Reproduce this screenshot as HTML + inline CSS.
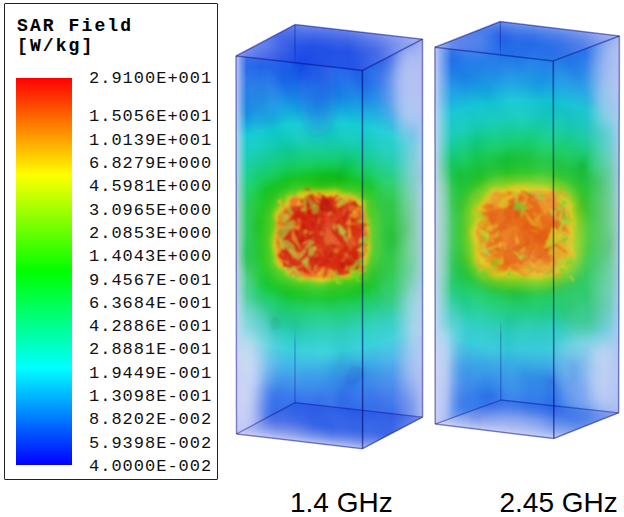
<!DOCTYPE html>
<html><head><meta charset="utf-8">
<style>
html,body{margin:0;padding:0;background:#fff;}
body{width:624px;height:517px;position:relative;overflow:hidden;}
#leg{position:absolute;left:3.65px;top:3px;width:212.5px;height:475.3px;border:1.7px solid #222;border-radius:1px;box-sizing:content-box;}
.t{position:absolute;font-family:"Liberation Mono",monospace;font-weight:bold;font-size:18px;letter-spacing:2.1px;color:#000;-webkit-text-stroke:0.1px #000;line-height:1;white-space:pre;}
#cb{position:absolute;left:16px;top:77.6px;width:55.6px;height:387.7px;background:linear-gradient(#ff0000 0%,#ffff00 25%,#00ff00 50%,#00ffff 75%,#0000ff 100%);}
.n{position:absolute;left:89px;font-family:"Liberation Mono",monospace;font-size:17px;letter-spacing:1.0px;color:#111;line-height:1;white-space:pre;}
.cap{position:absolute;font-family:"Liberation Sans",sans-serif;font-size:28px;color:#000;line-height:1;white-space:pre;}
svg{position:absolute;left:0;top:0;}
</style></head><body>
<div id="leg"></div>
<div class="t" style="left:17px;top:17px">SAR Field</div>
<div class="t" style="left:17px;top:37px">[W/kg]</div>
<div id="cb"></div>
<div class="n" style="top:70.4px">2.9100E+001</div>
<div class="n" style="top:108.4px">1.5056E+001</div>
<div class="n" style="top:131.7px">1.0139E+001</div>
<div class="n" style="top:155.0px">6.8279E+000</div>
<div class="n" style="top:178.3px">4.5981E+000</div>
<div class="n" style="top:201.6px">3.0965E+000</div>
<div class="n" style="top:224.9px">2.0853E+000</div>
<div class="n" style="top:248.2px">1.4043E+000</div>
<div class="n" style="top:271.5px">9.4567E-001</div>
<div class="n" style="top:294.8px">6.3684E-001</div>
<div class="n" style="top:318.1px">4.2886E-001</div>
<div class="n" style="top:341.4px">2.8881E-001</div>
<div class="n" style="top:364.7px">1.9449E-001</div>
<div class="n" style="top:388.0px">1.3098E-001</div>
<div class="n" style="top:411.3px">8.8202E-002</div>
<div class="n" style="top:434.6px">5.9398E-002</div>
<div class="n" style="top:457.9px">4.0000E-002</div>
<div class="cap" style="left:290px;top:488.8px">1.4 GHz</div>
<div class="cap" style="left:499.5px;top:488.8px">2.45 GHz</div>
<!--BOXES-->
<svg width="624" height="517" viewBox="0 0 624 517"><defs>
<filter id="bl" x="-20%" y="-20%" width="140%" height="140%"><feGaussianBlur stdDeviation="0.8"/></filter>
<filter id="bl2" x="-30%" y="-30%" width="160%" height="160%"><feGaussianBlur stdDeviation="1.8"/></filter>
<filter id="bl3" x="-30%" y="-30%" width="160%" height="160%"><feGaussianBlur stdDeviation="2.5"/></filter>
<filter id="bl6" x="-40%" y="-40%" width="180%" height="180%"><feGaussianBlur stdDeviation="6"/></filter>
<filter id="hz" x="-50%" y="-50%" width="200%" height="200%"><feGaussianBlur stdDeviation="8"/></filter>
<filter id="nz1" x="0" y="0" width="100%" height="100%" filterUnits="objectBoundingBox"><feTurbulence type="fractalNoise" baseFrequency="0.03 0.02" numOctaves="2" seed="5"/><feColorMatrix type="matrix" values="0 0 0 1.6 -0.3  0 0 0 1.6 -0.3  0 0 0 1.6 -0.3  0 0 0 0 1"/></filter>
<filter id="nz2" x="0" y="0" width="100%" height="100%" filterUnits="objectBoundingBox"><feTurbulence type="fractalNoise" baseFrequency="0.03 0.02" numOctaves="2" seed="11"/><feColorMatrix type="matrix" values="0 0 0 1.6 -0.3  0 0 0 1.6 -0.3  0 0 0 1.6 -0.3  0 0 0 0 1"/></filter>
<radialGradient id="base1" gradientUnits="userSpaceOnUse" cx="321.0" cy="237.0" r="240.0" gradientTransform="translate(321.0 237.0) scale(1.350 1) translate(-321.0 -237.0)"><stop offset="0.000" stop-color="#40c820"/><stop offset="0.208" stop-color="#18c018"/><stop offset="0.258" stop-color="#10c020"/><stop offset="0.300" stop-color="#10c850"/><stop offset="0.350" stop-color="#10c880"/><stop offset="0.408" stop-color="#10c8b0"/><stop offset="0.479" stop-color="#10c8d0"/><stop offset="0.542" stop-color="#10a0e0"/><stop offset="0.592" stop-color="#1480e4"/><stop offset="0.667" stop-color="#1a60e8"/><stop offset="0.771" stop-color="#1850e4"/><stop offset="1.000" stop-color="#1c4ce2"/></radialGradient>
<linearGradient id="hr1" gradientUnits="userSpaceOnUse" x1="362.4" y1="0" x2="422.5" y2="0"><stop offset="0" stop-color="#d8dcf6" stop-opacity="0.0"/><stop offset="0.5" stop-color="#d8dcf6" stop-opacity="0.08"/><stop offset="0.85" stop-color="#d0d4f4" stop-opacity="0.50"/><stop offset="1" stop-color="#c8ccf4" stop-opacity="0.8"/></linearGradient>
<linearGradient id="vl1" gradientUnits="userSpaceOnUse" x1="0" y1="285.0" x2="0" y2="435.0"><stop offset="0" stop-color="#dde2f6" stop-opacity="0"/><stop offset="0.5" stop-color="#dde2f6" stop-opacity="0.20"/><stop offset="1" stop-color="#dde2f6" stop-opacity="0.04"/></linearGradient>
<linearGradient id="hl1" gradientUnits="userSpaceOnUse" x1="236.0" y1="0" x2="247.0" y2="0"><stop offset="0" stop-color="#d4d8f6" stop-opacity="0.9"/><stop offset="0.35" stop-color="#d4d8f6" stop-opacity="0.55"/><stop offset="1" stop-color="#d4d8f6" stop-opacity="0"/></linearGradient>
<linearGradient id="ht1" gradientUnits="userSpaceOnUse" x1="236.0" y1="0" x2="422.5" y2="0"><stop offset="0" stop-color="#b8c0f2" stop-opacity="0.8"/><stop offset="0.14" stop-color="#7088ec" stop-opacity="0.55"/><stop offset="0.32" stop-color="#2040e6" stop-opacity="0.35"/><stop offset="0.6" stop-color="#2040e6" stop-opacity="0.35"/><stop offset="0.85" stop-color="#a0acf0" stop-opacity="0.55"/><stop offset="1" stop-color="#d0d4f6" stop-opacity="0.75"/></linearGradient>
<linearGradient id="hu1" gradientUnits="userSpaceOnUse" x1="236.0" y1="56.0" x2="240.3" y2="18.3"><stop offset="0" stop-color="#2040e6" stop-opacity="0.24"/><stop offset="0.4" stop-color="#4060e4" stop-opacity="0.1"/><stop offset="1" stop-color="#b0b8f0" stop-opacity="0.50"/></linearGradient>
<linearGradient id="hb1" gradientUnits="userSpaceOnUse" x1="295.0" y1="402.6" x2="290.7" y2="440.2"><stop offset="0" stop-color="#1838e0" stop-opacity="0.35"/><stop offset="0.5" stop-color="#5068e4" stop-opacity="0.20"/><stop offset="1" stop-color="#d8daf6" stop-opacity="0.82"/></linearGradient>
<linearGradient id="bv1" gradientUnits="userSpaceOnUse" x1="0" y1="24.6" x2="0" y2="402.6"><stop offset="0" stop-color="#000080" stop-opacity="0.45"/><stop offset="0.067" stop-color="#000080" stop-opacity="0.4"/><stop offset="0.107" stop-color="#000080" stop-opacity="0"/><stop offset="0.808" stop-color="#000080" stop-opacity="0"/><stop offset="0.848" stop-color="#000080" stop-opacity="0.35"/><stop offset="1" stop-color="#000080" stop-opacity="0.4"/></linearGradient>
<radialGradient id="base2" gradientUnits="userSpaceOnUse" cx="524.0" cy="225.0" r="260.0" gradientTransform="translate(524.0 225.0) scale(1.350 1) translate(-524.0 -225.0)"><stop offset="0.000" stop-color="#40c820"/><stop offset="0.208" stop-color="#20c028"/><stop offset="0.258" stop-color="#18c038"/><stop offset="0.300" stop-color="#14c858"/><stop offset="0.350" stop-color="#10c880"/><stop offset="0.408" stop-color="#10c4b0"/><stop offset="0.479" stop-color="#10c0d0"/><stop offset="0.542" stop-color="#1498e0"/><stop offset="0.592" stop-color="#1880e4"/><stop offset="0.667" stop-color="#1a68e8"/><stop offset="1.000" stop-color="#1c5ee6"/></radialGradient>
<linearGradient id="hr2" gradientUnits="userSpaceOnUse" x1="553.3" y1="0" x2="619.4" y2="0"><stop offset="0" stop-color="#d8dcf6" stop-opacity="0.0"/><stop offset="0.5" stop-color="#d8dcf6" stop-opacity="0.05"/><stop offset="0.85" stop-color="#d0d4f4" stop-opacity="0.45"/><stop offset="1" stop-color="#c8ccf4" stop-opacity="0.8"/></linearGradient>
<linearGradient id="vl2" gradientUnits="userSpaceOnUse" x1="0" y1="280.0" x2="0" y2="425.0"><stop offset="0" stop-color="#dde2f6" stop-opacity="0"/><stop offset="0.5" stop-color="#dde2f6" stop-opacity="0.18"/><stop offset="1" stop-color="#dde2f6" stop-opacity="0.05"/></linearGradient>
<linearGradient id="hl2" gradientUnits="userSpaceOnUse" x1="434.9" y1="0" x2="451.9" y2="0"><stop offset="0" stop-color="#d4d8f6" stop-opacity="0.9"/><stop offset="0.35" stop-color="#d4d8f6" stop-opacity="0.55"/><stop offset="1" stop-color="#d4d8f6" stop-opacity="0"/></linearGradient>
<linearGradient id="ht2" gradientUnits="userSpaceOnUse" x1="434.9" y1="0" x2="619.4" y2="0"><stop offset="0" stop-color="#b8c0f2" stop-opacity="0.8"/><stop offset="0.14" stop-color="#7088ec" stop-opacity="0.55"/><stop offset="0.32" stop-color="#2a62e4" stop-opacity="0.15"/><stop offset="0.6" stop-color="#2a62e4" stop-opacity="0.15"/><stop offset="0.85" stop-color="#a0acf0" stop-opacity="0.55"/><stop offset="1" stop-color="#d0d4f6" stop-opacity="0.75"/></linearGradient>
<linearGradient id="hu2" gradientUnits="userSpaceOnUse" x1="434.9" y1="47.2" x2="438.7" y2="14.4"><stop offset="0" stop-color="#2a62e4" stop-opacity="0.10"/><stop offset="0.4" stop-color="#4060e4" stop-opacity="0.1"/><stop offset="1" stop-color="#b0b8f0" stop-opacity="0.55"/></linearGradient>
<linearGradient id="hb2" gradientUnits="userSpaceOnUse" x1="500.9" y1="400.0" x2="497.5" y2="430.9"><stop offset="0" stop-color="#1838e0" stop-opacity="0.20"/><stop offset="0.5" stop-color="#98a4ec" stop-opacity="0.40"/><stop offset="1" stop-color="#d8daf6" stop-opacity="0.82"/></linearGradient>
<linearGradient id="bv2" gradientUnits="userSpaceOnUse" x1="0" y1="21.5" x2="0" y2="400.0"><stop offset="0" stop-color="#000080" stop-opacity="0.45"/><stop offset="0.059" stop-color="#000080" stop-opacity="0.4"/><stop offset="0.099" stop-color="#000080" stop-opacity="0"/><stop offset="0.789" stop-color="#000080" stop-opacity="0"/><stop offset="0.828" stop-color="#000080" stop-opacity="0.35"/><stop offset="1" stop-color="#000080" stop-opacity="0.4"/></linearGradient>
</defs>
<clipPath id="c1"><polygon points="236.0,56.0 295.0,24.6 422.5,39.2 422.6,417.2 362.6,448.7 236.5,434.0"/></clipPath>
<g clip-path="url(#c1)">
<rect x="236.0" y="24.6" width="186.5" height="424.1" fill="url(#base1)"/>
<g filter="url(#hz)">
<ellipse cx="242.0" cy="240.0" rx="10.0" ry="55.0" fill="#40c8a8" fill-opacity="0.55"/>
<ellipse cx="392.0" cy="245.0" rx="24.0" ry="65.0" fill="#20c048" fill-opacity="0.45"/>
<ellipse cx="318.0" cy="95.0" rx="18.0" ry="40.0" fill="#1838e0" fill-opacity="0.35"/>
<ellipse cx="260.0" cy="100.0" rx="20.0" ry="28.0" fill="#2c90e0" fill-opacity="0.35"/>
</g>
<path d="M377.2,236.0 L377.0,246.7 L376.5,253.0 L375.6,258.1 L374.4,262.6 L372.8,266.5 L370.8,270.1 L368.5,273.2 L365.8,276.0 L362.8,278.5 L359.3,280.6 L355.4,282.4 L351.1,283.8 L346.2,284.9 L340.6,285.8 L333.7,286.2 L322.0,286.4 L310.3,286.2 L303.4,285.8 L297.8,284.9 L292.9,283.8 L288.6,282.4 L284.7,280.6 L281.2,278.5 L278.2,276.0 L275.5,273.2 L273.2,270.1 L271.2,266.5 L269.6,262.6 L268.4,258.1 L267.5,253.0 L267.0,246.7 L266.8,236.0 L267.0,225.3 L267.5,219.0 L268.4,213.9 L269.6,209.4 L271.2,205.5 L273.2,201.9 L275.5,198.8 L278.2,196.0 L281.2,193.5 L284.7,191.4 L288.6,189.6 L292.9,188.2 L297.8,187.1 L303.4,186.2 L310.3,185.8 L322.0,185.6 L333.7,185.8 L340.6,186.2 L346.2,187.1 L351.1,188.2 L355.4,189.6 L359.3,191.4 L362.8,193.5 L365.8,196.0 L368.5,198.8 L370.8,201.9 L372.8,205.5 L374.4,209.4 L375.6,213.9 L376.5,219.0 L377.0,225.3Z" fill="#70d018" fill-opacity="0.70" filter="url(#bl6)"/>
<path d="M368.8,236.0 L370.2,248.9 L368.0,255.8 L367.3,262.4 L364.6,267.4 L358.3,269.2 L353.9,272.1 L351.7,278.5 L343.4,277.4 L335.6,278.3 L322.0,282.7 L308.0,279.6 L299.0,280.4 L293.6,276.7 L287.5,274.9 L285.3,269.5 L279.4,267.4 L275.3,263.2 L275.2,256.2 L272.7,249.2 L272.7,236.0 L276.6,223.9 L273.8,215.2 L276.8,209.7 L281.1,205.8 L285.8,203.0 L286.6,196.0 L293.6,195.3 L299.3,192.2 L307.3,190.3 L322.0,190.8 L336.7,190.1 L343.8,193.9 L351.6,193.7 L355.7,198.0 L362.3,199.2 L365.8,203.6 L364.6,211.2 L366.7,216.7 L368.3,223.6Z" fill="#e8c414" fill-opacity="0.95" filter="url(#bl3)"/>
<path d="M368.5,236.0 L365.0,247.5 L365.0,254.6 L361.3,258.9 L360.0,264.0 L356.1,267.2 L352.0,269.9 L348.1,273.4 L342.2,275.0 L335.4,277.8 L322.0,276.9 L308.6,277.9 L301.0,276.5 L294.4,275.5 L290.6,271.5 L289.0,266.2 L282.1,265.4 L278.9,261.1 L277.3,255.3 L278.2,247.7 L277.0,236.0 L280.4,224.9 L277.8,216.9 L281.1,212.2 L285.2,208.8 L289.4,206.3 L289.8,199.6 L294.4,196.5 L303.2,199.6 L308.8,194.8 L322.0,196.6 L334.1,198.4 L341.4,198.5 L348.8,197.7 L354.3,199.5 L354.5,206.4 L360.6,207.6 L359.9,213.9 L365.6,217.2 L364.3,224.7Z" fill="#e8701c" filter="url(#bl2)"/>
<path d="M362.7,236.0 L362.9,246.9 L359.4,252.1 L360.3,258.3 L354.7,260.1 L350.9,262.3 L349.5,267.1 L343.3,266.5 L338.9,268.7 L333.1,270.5 L322.0,271.8 L311.3,269.3 L305.5,267.9 L298.0,270.3 L295.6,265.8 L289.4,265.8 L286.6,262.1 L286.8,256.5 L284.8,252.0 L283.6,246.3 L282.6,236.0 L283.2,225.6 L284.3,219.7 L285.6,214.8 L286.4,209.7 L291.3,208.0 L295.1,205.7 L298.5,202.3 L305.0,203.1 L311.1,202.0 L322.0,198.4 L333.3,200.9 L339.8,201.6 L343.3,205.6 L348.8,205.7 L353.0,207.7 L353.3,212.9 L358.4,214.8 L360.1,219.6 L358.0,226.4Z" fill="#d42c14" filter="url(#bl2)"/>
<g filter="url(#bl)">
<polygon points="329.2,239.4 340.9,218.7 320.4,238.5" fill="#d02010" fill-opacity="0.85"/>
<polygon points="297.7,249.2 309.8,240.2 308.7,237.3" fill="#e8a028" fill-opacity="0.87"/>
<polygon points="281.2,230.9 293.4,240.4 276.1,239.0" fill="#c8a828" fill-opacity="0.93"/>
<polygon points="313.4,268.6 323.3,265.0 311.4,259.0" fill="#e03418" fill-opacity="0.73"/>
<polygon points="347.4,253.7 338.5,246.4 356.0,239.6" fill="#d42410" fill-opacity="0.71"/>
<polygon points="305.7,239.1 299.6,217.1 318.5,238.2" fill="#cc2010" fill-opacity="0.82"/>
<polygon points="346.9,271.3 358.2,269.6 362.8,242.7" fill="#d02010" fill-opacity="0.96"/>
<polygon points="353.0,273.2 322.5,278.0 328.2,264.5" fill="#d83818" fill-opacity="0.81"/>
<polygon points="288.1,200.6 288.3,218.0 283.2,219.1" fill="#e8a028" fill-opacity="0.95"/>
<polygon points="300.1,245.0 288.7,227.5 291.7,229.2" fill="#d02010" fill-opacity="0.94"/>
<polygon points="279.9,233.0 287.1,238.0 280.9,229.5" fill="#d82810" fill-opacity="0.65"/>
<polygon points="348.6,243.9 349.8,243.7 342.3,247.4" fill="#c8a828" fill-opacity="0.80"/>
<polygon points="339.5,221.5 341.8,235.3 327.5,227.0" fill="#a8b830" fill-opacity="0.61"/>
<polygon points="330.7,274.5 331.4,273.0 327.9,265.0" fill="#b81808" fill-opacity="0.83"/>
<polygon points="280.5,247.2 279.1,237.6 279.8,248.7" fill="#d02010" fill-opacity="0.74"/>
<polygon points="280.0,228.3 276.5,249.0 288.5,235.4" fill="#d83818" fill-opacity="0.90"/>
<polygon points="297.1,230.5 297.4,245.3 314.4,237.8" fill="#cc2010" fill-opacity="0.98"/>
<polygon points="323.0,230.7 307.5,216.2 313.4,229.2" fill="#c81c0c" fill-opacity="0.86"/>
<polygon points="285.4,254.8 292.7,245.5 276.4,246.0" fill="#b81808" fill-opacity="0.97"/>
<polygon points="359.9,250.8 357.5,242.0 367.3,251.0" fill="#d02010" fill-opacity="0.79"/>
<polygon points="307.2,214.7 303.1,219.6 310.8,210.7" fill="#d42410" fill-opacity="0.96"/>
<polygon points="331.2,255.4 341.8,263.6 330.0,261.2" fill="#d02010" fill-opacity="0.96"/>
<polygon points="297.8,271.6 290.5,257.9 306.6,262.2" fill="#e8a028" fill-opacity="0.89"/>
<polygon points="308.8,229.7 306.3,219.9 303.6,232.0" fill="#cc2010" fill-opacity="0.65"/>
<polygon points="303.8,264.5 315.4,268.7 302.9,267.1" fill="#c8a828" fill-opacity="0.83"/>
<polygon points="312.8,244.6 330.3,256.4 328.2,256.1" fill="#b81808" fill-opacity="0.96"/>
<polygon points="323.3,198.2 344.3,207.9 338.3,209.7" fill="#d02010" fill-opacity="0.91"/>
<polygon points="341.9,204.4 338.9,195.7 336.7,194.8" fill="#e87020" fill-opacity="0.80"/>
<polygon points="295.0,256.4 299.7,264.7 295.4,266.4" fill="#d02010" fill-opacity="0.84"/>
<polygon points="324.8,248.5 341.1,247.5 334.8,258.7" fill="#e8a028" fill-opacity="0.66"/>
<polygon points="314.5,202.3 306.0,217.8 300.1,218.3" fill="#d42410" fill-opacity="0.75"/>
<polygon points="340.8,248.4 321.0,253.5 326.4,245.9" fill="#d02010" fill-opacity="0.64"/>
<polygon points="347.8,208.2 350.7,208.4 351.2,221.4" fill="#d82810" fill-opacity="0.83"/>
<polygon points="277.6,255.6 280.8,248.3 290.0,272.6" fill="#d42410" fill-opacity="0.74"/>
<polygon points="343.5,195.5 325.5,217.6 351.2,197.9" fill="#d0c028" fill-opacity="0.77"/>
<polygon points="338.0,227.7 340.6,229.1 345.6,238.1" fill="#cc2010" fill-opacity="0.68"/>
<polygon points="317.0,240.7 312.1,260.6 316.8,248.7" fill="#d02010" fill-opacity="0.92"/>
<polygon points="301.0,213.3 283.3,228.0 299.9,229.8" fill="#e8a028" fill-opacity="0.67"/>
<polygon points="320.3,197.7 324.0,194.0 319.7,197.5" fill="#d0c028" fill-opacity="0.70"/>
<polygon points="303.4,219.1 313.9,216.8 307.2,220.6" fill="#c41c0c" fill-opacity="0.97"/>
<polygon points="310.1,217.6 300.5,206.7 307.4,224.6" fill="#d02010" fill-opacity="0.64"/>
<polygon points="322.5,231.3 329.7,239.2 319.3,234.1" fill="#c8a828" fill-opacity="0.61"/>
<polygon points="288.9,237.4 316.9,230.8 300.0,238.9" fill="#a8b830" fill-opacity="0.76"/>
<polygon points="363.2,263.3 345.7,273.6 351.6,265.3" fill="#b81808" fill-opacity="0.71"/>
<polygon points="297.6,251.3 291.2,244.7 297.6,240.9" fill="#c41c0c" fill-opacity="0.88"/>
<polygon points="345.3,208.3 340.0,208.0 335.8,231.4" fill="#b81808" fill-opacity="0.60"/>
<polygon points="288.1,253.3 292.1,271.7 283.5,266.9" fill="#a8b830" fill-opacity="0.86"/>
<polygon points="303.0,243.8 303.2,242.1 288.7,233.5" fill="#d42410" fill-opacity="0.92"/>
<polygon points="338.3,262.1 324.6,264.5 336.4,269.1" fill="#e05020" fill-opacity="0.90"/>
<polygon points="354.6,212.0 365.7,225.8 365.2,214.7" fill="#e05020" fill-opacity="0.72"/>
<polygon points="339.8,230.6 338.6,220.2 340.4,214.6" fill="#e03418" fill-opacity="0.74"/>
<polygon points="309.2,209.4 320.0,208.3 325.0,203.2" fill="#d83818" fill-opacity="0.94"/>
<polygon points="307.2,221.5 323.8,209.2 312.4,196.6" fill="#d02010" fill-opacity="0.67"/>
<polygon points="285.2,257.6 278.4,258.2 280.1,253.3" fill="#d82810" fill-opacity="0.68"/>
<polygon points="358.0,204.6 340.7,205.7 355.6,200.7" fill="#c41c0c" fill-opacity="0.95"/>
<polygon points="309.5,208.1 311.2,204.5 317.9,202.9" fill="#a8b830" fill-opacity="0.74"/>
<polygon points="353.2,239.1 357.1,244.0 335.0,273.1" fill="#e87020" fill-opacity="0.74"/>
<polygon points="322.4,243.2 333.5,237.2 333.0,234.2" fill="#c8a828" fill-opacity="0.92"/>
<polygon points="313.4,217.8 317.1,222.1 319.1,212.1" fill="#c41c0c" fill-opacity="0.94"/>
<polygon points="305.8,246.4 303.9,256.7 304.2,264.0" fill="#d83818" fill-opacity="0.87"/>
<polygon points="322.7,220.4 336.3,241.8 332.7,226.4" fill="#e05020" fill-opacity="0.71"/>
<polygon points="301.6,208.1 287.2,217.4 292.3,216.7" fill="#d02010" fill-opacity="0.61"/>
<polygon points="323.2,245.6 339.4,230.0 333.2,236.9" fill="#a8b830" fill-opacity="0.90"/>
<polygon points="348.7,234.9 361.5,229.4 342.4,225.5" fill="#b81808" fill-opacity="0.73"/>
<polygon points="307.8,225.9 304.9,213.0 307.0,210.5" fill="#d82810" fill-opacity="0.85"/>
<polygon points="309.6,217.9 309.4,208.7 324.1,223.5" fill="#cc2010" fill-opacity="0.86"/>
<polygon points="351.9,215.7 337.5,217.3 346.5,206.6" fill="#cc2010" fill-opacity="0.67"/>
<polygon points="296.8,221.2 296.7,207.4 283.6,210.5" fill="#d82810" fill-opacity="0.74"/>
<polygon points="338.5,223.9 344.8,221.3 340.2,220.9" fill="#d83818" fill-opacity="0.78"/>
<polygon points="316.6,262.8 307.1,265.1 321.0,253.7" fill="#c81c0c" fill-opacity="0.62"/>
<polygon points="325.9,239.4 337.2,226.7 342.3,232.4" fill="#b81808" fill-opacity="0.85"/>
<polygon points="337.6,247.9 336.6,247.9 345.9,246.4" fill="#e8a028" fill-opacity="0.80"/>
<polygon points="336.9,236.4 342.0,222.0 344.3,233.7" fill="#d83818" fill-opacity="0.81"/>
<polygon points="308.4,232.6 311.0,231.9 302.2,240.6" fill="#e05020" fill-opacity="0.95"/>
<polygon points="311.4,260.7 315.8,263.7 311.7,271.6" fill="#e8a028" fill-opacity="0.80"/>
<polygon points="350.0,200.0 362.6,207.4 356.1,208.2" fill="#c41c0c" fill-opacity="0.97"/>
<polygon points="323.0,249.3 316.2,257.9 313.0,246.1" fill="#e8a028" fill-opacity="0.95"/>
<polygon points="315.4,272.1 315.0,252.5 308.8,264.0" fill="#c8a828" fill-opacity="0.72"/>
<polygon points="314.4,233.9 314.4,255.6 296.7,259.0" fill="#a8b830" fill-opacity="0.77"/>
<polygon points="317.3,220.8 303.5,217.7 310.5,215.9" fill="#d83818" fill-opacity="0.70"/>
<polygon points="363.2,223.2 348.8,203.9 350.8,224.6" fill="#e8a028" fill-opacity="0.72"/>
<polygon points="331.0,255.3 333.0,251.4 318.2,236.2" fill="#d02010" fill-opacity="0.85"/>
<polygon points="314.1,264.9 329.3,265.7 327.7,262.3" fill="#b81808" fill-opacity="0.80"/>
<polygon points="296.3,262.2 307.6,254.6 302.9,257.5" fill="#b81808" fill-opacity="0.89"/>
<polygon points="289.1,219.2 289.8,225.2 292.6,214.7" fill="#d83818" fill-opacity="0.76"/>
<polygon points="324.0,231.3 334.0,254.7 325.4,246.5" fill="#a8b830" fill-opacity="0.77"/>
<polygon points="321.1,224.2 324.6,233.4 311.5,224.6" fill="#c81c0c" fill-opacity="0.83"/>
<polygon points="285.1,239.7 298.4,236.5 285.7,241.2" fill="#e03418" fill-opacity="0.85"/>
<polygon points="324.1,237.7 327.8,255.9 335.1,255.9" fill="#d83818" fill-opacity="0.89"/>
<polygon points="301.4,239.7 310.0,231.1 297.5,235.7" fill="#d82810" fill-opacity="0.79"/>
<polygon points="327.7,228.3 333.8,236.9 333.0,221.1" fill="#d82810" fill-opacity="0.64"/>
<polygon points="326.0,268.0 310.3,263.8 319.5,278.0" fill="#e8a020" fill-opacity="0.79"/>
<polygon points="304.3,218.7 316.3,204.9 305.7,234.0" fill="#d82810" fill-opacity="0.74"/>
<polygon points="318.6,243.1 314.7,224.3 310.3,241.0" fill="#d02010" fill-opacity="0.67"/>
<polygon points="335.1,226.3 346.1,219.1 330.8,197.1" fill="#d82810" fill-opacity="0.99"/>
<polygon points="317.7,195.7 307.6,199.8 301.6,200.8" fill="#d82810" fill-opacity="0.66"/>
<polygon points="276.1,229.2 277.5,255.0 284.7,244.9" fill="#e8a028" fill-opacity="0.78"/>
<polygon points="295.1,262.1 284.5,260.9 295.8,268.7" fill="#d02010" fill-opacity="0.92"/>
<polygon points="315.9,257.4 304.9,260.5 319.1,257.8" fill="#cc2010" fill-opacity="0.76"/>
<polygon points="278.5,248.1 288.3,244.5 285.6,250.2" fill="#e8a028" fill-opacity="0.75"/>
<polygon points="362.5,220.0 349.6,210.2 359.5,205.5" fill="#e8a028" fill-opacity="0.66"/>
<polygon points="316.5,220.6 318.4,208.6 312.3,227.9" fill="#c41c0c" fill-opacity="0.77"/>
<polygon points="299.9,225.9 306.7,225.0 313.9,224.0" fill="#e03418" fill-opacity="0.69"/>
<polygon points="297.7,215.3 279.9,241.6 284.2,238.2" fill="#e05020" fill-opacity="0.63"/>
<polygon points="343.3,273.3 335.6,271.0 340.7,260.4" fill="#d82810" fill-opacity="0.85"/>
<polygon points="340.8,252.3 348.0,255.3 353.2,261.0" fill="#c8a828" fill-opacity="0.70"/>
<polygon points="323.5,237.4 323.4,245.4 324.9,252.9" fill="#b81808" fill-opacity="0.75"/>
<polygon points="347.8,238.2 347.7,225.5 339.2,237.4" fill="#d02010" fill-opacity="0.86"/>
<polygon points="342.2,198.8 343.1,200.5 333.2,199.3" fill="#d82810" fill-opacity="0.66"/>
<polygon points="305.8,232.3 319.5,237.9 306.2,235.8" fill="#c81c0c" fill-opacity="0.69"/>
<polygon points="351.1,238.7 347.0,219.1 362.0,225.5" fill="#d82810" fill-opacity="0.71"/>
<polygon points="288.6,227.3 292.3,205.4 288.1,214.2" fill="#cc2010" fill-opacity="0.60"/>
<polygon points="328.3,258.2 337.0,268.3 332.2,258.4" fill="#e03418" fill-opacity="0.96"/>
<polygon points="358.9,233.4 366.9,236.9 356.5,248.3" fill="#a8b830" fill-opacity="0.68"/>
<polygon points="314.7,206.6 315.3,208.2 301.8,207.4" fill="#d82810" fill-opacity="0.61"/>
<polygon points="353.1,215.9 352.9,223.7 354.5,219.9" fill="#e05020" fill-opacity="0.78"/>
<polygon points="340.4,237.0 337.6,223.7 347.1,231.8" fill="#a8b830" fill-opacity="0.82"/>
<polygon points="319.4,241.0 312.3,247.6 310.5,244.7" fill="#c41c0c" fill-opacity="0.98"/>
<polygon points="300.9,222.1 298.0,226.0 311.7,219.7" fill="#d83818" fill-opacity="0.78"/>
<polygon points="350.6,274.3 346.3,244.9 359.3,245.3" fill="#d42410" fill-opacity="0.64"/>
<polygon points="276.5,222.3 276.0,235.0 291.1,216.2" fill="#e8a028" fill-opacity="0.72"/>
<polygon points="340.8,260.5 353.2,258.9 350.6,253.5" fill="#e05020" fill-opacity="0.65"/>
<polygon points="335.5,252.0 331.4,275.0 340.9,257.4" fill="#d82810" fill-opacity="0.81"/>
<polygon points="292.3,218.9 292.7,219.3 296.5,221.5" fill="#d83818" fill-opacity="0.77"/>
<polygon points="298.2,199.4 305.9,205.8 295.0,206.0" fill="#e8a028" fill-opacity="0.96"/>
<polygon points="333.1,267.9 341.5,243.1 331.4,266.8" fill="#cc2010" fill-opacity="0.88"/>
<polygon points="295.7,217.4 286.0,210.5 289.5,223.9" fill="#e8a028" fill-opacity="0.65"/>
<polygon points="299.3,205.5 304.6,212.7 320.7,213.7" fill="#c81c0c" fill-opacity="0.85"/>
<polygon points="330.5,230.3 314.7,237.5 325.1,237.0" fill="#d02010" fill-opacity="0.67"/>
<polygon points="317.1,227.3 319.2,221.6 320.3,212.6" fill="#c8a828" fill-opacity="1.00"/>
<polygon points="296.3,224.4 290.6,211.0 287.6,222.0" fill="#e87020" fill-opacity="0.94"/>
<polygon points="367.9,244.6 356.1,241.8 352.5,261.3" fill="#d02810" fill-opacity="0.62"/>
<polygon points="331.0,228.2 348.4,238.4 333.1,237.7" fill="#cc2010" fill-opacity="0.90"/>
<polygon points="361.6,258.1 367.5,249.2 358.2,255.0" fill="#d02810" fill-opacity="0.60"/>
<polygon points="337.0,234.3 344.3,242.0 337.3,241.7" fill="#c81c0c" fill-opacity="0.90"/>
<polygon points="314.9,206.0 310.4,206.4 321.9,219.2" fill="#c41c0c" fill-opacity="0.74"/>
<polygon points="300.2,271.8 301.9,274.2 304.4,263.6" fill="#a8b830" fill-opacity="0.84"/>
<polygon points="353.0,253.2 355.4,257.9 344.1,250.1" fill="#d02010" fill-opacity="0.78"/>
<polygon points="321.1,259.8 352.4,263.0 338.7,270.4" fill="#c41c0c" fill-opacity="0.93"/>
<polygon points="323.2,278.0 318.7,278.0 319.6,278.0" fill="#c8a828" fill-opacity="0.75"/>
<polygon points="333.3,216.6 309.8,218.6 307.3,209.8" fill="#d02010" fill-opacity="0.82"/>
<polygon points="313.7,199.1 319.0,205.7 324.1,202.9" fill="#c8a828" fill-opacity="0.70"/>
<polygon points="356.7,206.1 342.8,210.7 355.7,205.8" fill="#b81808" fill-opacity="0.95"/>
<polygon points="333.3,195.0 324.6,207.4 316.8,203.3" fill="#d02010" fill-opacity="0.96"/>
<polygon points="348.6,202.3 336.5,218.1 353.4,204.9" fill="#e03418" fill-opacity="0.67"/>
<polygon points="292.7,254.4 287.3,247.6 292.7,250.4" fill="#a8b830" fill-opacity="0.95"/>
<polygon points="323.5,255.7 336.1,252.4 324.4,269.4" fill="#d42410" fill-opacity="0.67"/>
<polygon points="319.4,205.1 303.1,211.8 296.5,208.7" fill="#c8a828" fill-opacity="0.90"/>
<polygon points="364.4,210.7 344.9,223.6 367.7,224.6" fill="#e8a028" fill-opacity="0.75"/>
<polygon points="340.9,225.0 351.6,250.5 341.3,233.6" fill="#a8b830" fill-opacity="0.98"/>
<polygon points="326.3,244.5 327.3,254.6 310.1,262.0" fill="#d82810" fill-opacity="0.67"/>
<polygon points="326.7,257.1 337.2,256.2 327.8,242.2" fill="#b81808" fill-opacity="0.68"/>
<polygon points="345.4,224.5 334.5,214.1 349.3,212.9" fill="#d82810" fill-opacity="0.76"/>
<polygon points="367.9,228.6 363.5,240.8 361.7,243.3" fill="#c41c0c" fill-opacity="0.88"/>
<polygon points="331.9,249.7 337.7,256.1 336.6,258.0" fill="#d83818" fill-opacity="0.82"/>
<polygon points="352.0,227.1 360.5,206.4 363.2,222.9" fill="#e05020" fill-opacity="0.72"/>
<polygon points="337.8,247.4 333.9,237.9 326.8,233.0" fill="#d02010" fill-opacity="0.87"/>
<polygon points="311.9,194.1 299.7,201.6 313.6,218.3" fill="#d02010" fill-opacity="0.66"/>
<polygon points="317.5,196.9 311.5,206.0 311.1,205.6" fill="#c41c0c" fill-opacity="0.89"/>
<polygon points="342.7,214.8 358.3,226.2 361.9,227.1" fill="#d0c028" fill-opacity="0.93"/>
<polygon points="315.1,210.0 323.7,212.2 338.8,194.7" fill="#c81c0c" fill-opacity="0.77"/>
<polygon points="315.0,194.0 328.5,194.0 330.1,194.1" fill="#e8a020" fill-opacity="0.74"/>
<polygon points="313.3,273.1 316.1,274.2 326.2,263.9" fill="#d82810" fill-opacity="0.96"/>
<polygon points="360.5,223.0 349.9,222.9 349.6,217.0" fill="#d82810" fill-opacity="0.93"/>
<polygon points="366.8,235.4 351.9,243.9 365.2,242.8" fill="#d0c028" fill-opacity="0.68"/>
<polygon points="324.9,227.2 322.6,229.0 325.2,213.1" fill="#b81808" fill-opacity="0.78"/>
<polygon points="364.9,220.7 367.9,229.7 366.6,226.3" fill="#c8a828" fill-opacity="0.70"/>
<polygon points="331.4,263.2 316.4,242.0 317.0,244.0" fill="#d02010" fill-opacity="0.73"/>
<polygon points="345.7,231.3 341.2,215.0 339.4,204.4" fill="#b81808" fill-opacity="0.84"/>
<polygon points="320.8,260.1 333.6,243.4 340.2,239.6" fill="#c41c0c" fill-opacity="0.64"/>
<polygon points="311.9,272.3 307.6,256.1 319.8,257.6" fill="#c81c0c" fill-opacity="0.89"/>
<polygon points="287.4,235.1 300.0,234.4 281.1,243.1" fill="#d02010" fill-opacity="0.86"/>
<polygon points="293.3,260.5 291.1,263.6 308.1,268.1" fill="#d82810" fill-opacity="0.99"/>
<polygon points="346.6,208.9 343.1,207.9 340.8,219.6" fill="#e05020" fill-opacity="0.84"/>
<polygon points="343.4,247.5 341.4,236.9 330.3,234.3" fill="#d02010" fill-opacity="0.77"/>
<polygon points="317.7,221.5 320.7,226.0 313.1,230.8" fill="#d82810" fill-opacity="0.81"/>
<polygon points="297.6,234.2 300.0,231.8 302.8,225.2" fill="#d02010" fill-opacity="0.61"/>
<polygon points="330.8,226.7 324.1,222.9 319.7,233.8" fill="#d83818" fill-opacity="0.77"/>
<polygon points="281.9,235.5 293.9,243.2 289.8,238.9" fill="#d82810" fill-opacity="0.69"/>
<polygon points="323.9,241.3 330.1,251.5 316.5,247.6" fill="#d82810" fill-opacity="0.67"/>
<polygon points="290.5,235.9 278.1,244.4 298.6,260.1" fill="#a8b830" fill-opacity="0.68"/>
<polygon points="334.3,251.4 330.4,244.3 330.6,236.7" fill="#c81c0c" fill-opacity="0.71"/>
<polygon points="352.1,228.2 334.0,218.2 347.3,228.1" fill="#d83818" fill-opacity="0.78"/>
<polygon points="299.3,237.9 297.3,227.0 308.1,231.3" fill="#e8a028" fill-opacity="0.97"/>
<polygon points="354.4,265.3 360.6,267.2 347.9,271.9" fill="#b81808" fill-opacity="0.91"/>
<polygon points="284.9,246.2 310.3,274.5 282.7,266.3" fill="#d02010" fill-opacity="0.89"/>
<polygon points="323.6,256.0 316.7,247.1 317.5,244.7" fill="#a8b830" fill-opacity="0.70"/>
<polygon points="356.5,264.7 362.8,264.2 363.9,260.6" fill="#a8b830" fill-opacity="0.85"/>
<polygon points="308.4,246.4 304.2,251.6 309.6,245.2" fill="#d82810" fill-opacity="0.84"/>
<polygon points="304.3,206.1 313.3,194.1 314.1,194.4" fill="#cc2010" fill-opacity="0.84"/>
<polygon points="298.5,225.6 277.6,225.0 297.7,217.5" fill="#d82810" fill-opacity="0.94"/>
<polygon points="342.8,270.7 335.5,251.2 326.1,266.8" fill="#d82810" fill-opacity="0.82"/>
<polygon points="295.6,252.2 314.1,244.8 308.9,248.8" fill="#d82810" fill-opacity="0.89"/>
<polygon points="308.7,265.1 309.0,246.5 296.1,264.1" fill="#d02010" fill-opacity="0.91"/>
<polygon points="306.5,196.9 302.7,199.4 305.4,215.7" fill="#a8b830" fill-opacity="0.87"/>
<polygon points="322.5,211.3 313.1,213.9 305.9,194.6" fill="#a8b830" fill-opacity="0.64"/>
<polygon points="329.9,217.4 309.7,215.0 329.5,215.1" fill="#d42410" fill-opacity="0.80"/>
<polygon points="341.8,241.8 342.2,247.4 343.8,250.7" fill="#e05020" fill-opacity="0.88"/>
<polygon points="302.9,250.6 282.6,238.1 304.8,225.4" fill="#c81c0c" fill-opacity="0.76"/>
<polygon points="346.1,197.6 341.6,219.4 341.0,219.3" fill="#d02010" fill-opacity="0.85"/>
<polygon points="352.1,246.9 353.0,239.3 361.9,242.8" fill="#e05020" fill-opacity="0.71"/>
<polygon points="341.2,266.3 343.9,272.1 347.6,257.8" fill="#d02010" fill-opacity="0.79"/>
<polygon points="305.0,272.0 303.8,264.0 312.7,275.8" fill="#d02010" fill-opacity="0.76"/>
<polygon points="338.6,194.7 336.9,194.5 317.1,213.4" fill="#c81c0c" fill-opacity="0.88"/>
<polygon points="291.6,238.5 302.0,250.9 292.0,228.1" fill="#e8a028" fill-opacity="0.72"/>
<polygon points="345.9,245.7 351.5,230.0 368.0,235.1" fill="#e05020" fill-opacity="0.99"/>
<polygon points="280.7,210.1 280.1,242.2 296.3,222.8" fill="#a8b830" fill-opacity="0.70"/>
<polygon points="321.7,194.5 325.6,224.9 331.4,224.2" fill="#e03418" fill-opacity="0.96"/>
<polygon points="352.9,263.4 360.5,258.0 354.3,263.5" fill="#b81808" fill-opacity="0.87"/>
<polygon points="307.4,256.4 310.5,255.4 319.7,256.9" fill="#cc2010" fill-opacity="0.64"/>
<polygon points="318.9,243.9 311.3,257.2 321.3,252.7" fill="#c81c0c" fill-opacity="0.73"/>
<polygon points="317.7,246.6 315.8,242.7 325.3,247.3" fill="#e03418" fill-opacity="0.69"/>
<polygon points="347.7,243.0 352.6,227.8 354.6,226.7" fill="#d02010" fill-opacity="0.88"/>
<polygon points="361.5,235.1 352.2,232.3 343.7,235.8" fill="#b81808" fill-opacity="0.90"/>
<polygon points="323.4,232.0 348.3,237.6 324.8,229.2" fill="#c81c0c" fill-opacity="0.85"/>
<polygon points="311.5,259.5 316.3,256.4 292.1,262.0" fill="#d42410" fill-opacity="0.96"/>
<polygon points="334.6,219.7 331.4,225.2 338.2,217.6" fill="#e05020" fill-opacity="0.74"/>
<polygon points="331.8,248.3 331.4,247.0 324.9,259.0" fill="#e05020" fill-opacity="0.89"/>
<polygon points="333.6,222.2 343.7,226.8 354.8,207.5" fill="#c81c0c" fill-opacity="0.91"/>
<polygon points="282.4,260.0 284.4,260.6 295.5,268.0" fill="#d0c028" fill-opacity="0.77"/>
<polygon points="342.3,228.7 339.6,218.4 341.9,219.5" fill="#d82810" fill-opacity="0.95"/>
<polygon points="326.8,257.5 311.8,271.5 331.8,262.7" fill="#cc2010" fill-opacity="0.89"/>
<polygon points="289.7,219.4 303.1,219.0 300.5,206.2" fill="#d02010" fill-opacity="0.94"/>
<polygon points="322.9,194.0 337.7,213.0 318.0,211.4" fill="#b81808" fill-opacity="0.87"/>
<polygon points="285.2,223.0 300.9,205.8 298.8,217.4" fill="#cc2010" fill-opacity="0.88"/>
<polygon points="280.1,251.2 278.9,239.3 277.9,238.8" fill="#d82810" fill-opacity="0.67"/>
<polygon points="294.7,219.7 292.1,220.7 306.3,223.5" fill="#d82810" fill-opacity="0.77"/>
<polygon points="336.5,235.6 341.1,243.9 342.5,247.5" fill="#d02010" fill-opacity="0.61"/>
<polygon points="349.3,210.5 347.4,239.9 351.1,237.0" fill="#e8a028" fill-opacity="0.84"/>
<polygon points="359.7,223.4 360.3,219.0 342.0,214.7" fill="#d02810" fill-opacity="0.70"/>
<polygon points="293.4,212.2 303.8,216.4 310.3,224.6" fill="#cc2010" fill-opacity="0.79"/>
<polygon points="343.2,246.6 324.2,241.7 326.1,226.0" fill="#e05020" fill-opacity="0.98"/>
<polygon points="343.9,239.7 335.6,233.9 348.5,244.0" fill="#d83818" fill-opacity="0.70"/>
<polygon points="303.3,254.1 287.7,248.8 293.8,258.5" fill="#c8a828" fill-opacity="0.64"/>
<polygon points="325.0,250.2 331.0,244.2 328.0,252.0" fill="#d82810" fill-opacity="0.65"/>
<polygon points="287.9,271.3 304.9,263.8 292.6,271.6" fill="#c8a828" fill-opacity="0.69"/>
<polygon points="282.8,222.4 280.9,222.0 288.9,220.5" fill="#d0c028" fill-opacity="0.77"/>
<polygon points="364.5,253.6 350.9,274.2 350.8,267.6" fill="#b0c830" fill-opacity="0.73"/>
<polygon points="301.3,261.4 308.4,256.4 307.5,267.0" fill="#a8b830" fill-opacity="0.94"/>
<polygon points="348.4,225.4 357.0,246.5 364.5,225.0" fill="#d82810" fill-opacity="0.78"/>
<polygon points="290.4,191.8 297.7,198.1 292.8,188.8" fill="#40c830" fill-opacity="0.66"/>
<polygon points="276.1,200.6 281.2,199.0 286.0,211.9" fill="#e8b020" fill-opacity="0.76"/>
<polygon points="282.8,202.4 279.7,201.1 282.6,194.5" fill="#70d018" fill-opacity="0.57"/>
<polygon points="362.7,205.9 365.1,215.6 364.9,216.0" fill="#70d018" fill-opacity="0.54"/>
<polygon points="347.1,272.7 347.7,272.7 345.0,281.2" fill="#a0d020" fill-opacity="0.57"/>
<polygon points="336.0,282.2 336.8,268.8 334.7,273.3" fill="#40c830" fill-opacity="0.85"/>
<polygon points="292.7,266.4 291.7,275.4 285.6,276.0" fill="#a0d020" fill-opacity="0.51"/>
<polygon points="305.4,202.4 299.7,198.7 304.3,199.2" fill="#d84010" fill-opacity="0.52"/>
<polygon points="348.4,270.4 348.5,267.9 344.8,262.9" fill="#70d018" fill-opacity="0.77"/>
<polygon points="283.1,262.5 278.8,268.4 277.0,257.1" fill="#e8b020" fill-opacity="0.58"/>
<polygon points="280.1,233.0 276.4,233.1 278.9,233.2" fill="#70d018" fill-opacity="0.70"/>
<polygon points="294.4,272.4 285.8,276.5 290.8,277.6" fill="#40c830" fill-opacity="0.79"/>
<polygon points="308.3,187.6 302.4,189.4 310.9,191.1" fill="#d84010" fill-opacity="0.65"/>
<polygon points="276.2,280.8 281.2,278.9 277.6,279.6" fill="#70d018" fill-opacity="0.66"/>
<polygon points="364.8,280.3 368.6,278.4 370.7,264.9" fill="#40c830" fill-opacity="0.52"/>
<polygon points="360.8,262.1 359.5,264.0 356.7,259.1" fill="#d84010" fill-opacity="0.79"/>
<polygon points="281.9,194.2 277.7,192.5 281.2,198.6" fill="#40c830" fill-opacity="0.61"/>
<polygon points="355.7,206.8 359.4,212.4 352.5,207.9" fill="#d84010" fill-opacity="0.54"/>
<polygon points="327.6,275.2 347.0,279.0 335.7,274.6" fill="#d0c828" fill-opacity="0.53"/>
<polygon points="283.9,260.7 289.9,262.0 286.7,263.5" fill="#e8b020" fill-opacity="0.51"/>
<polygon points="285.6,217.6 279.0,222.9 279.6,222.5" fill="#a0d020" fill-opacity="0.79"/>
<polygon points="356.8,203.1 366.1,202.9 362.1,199.3" fill="#a0d020" fill-opacity="0.64"/>
<polygon points="325.9,279.4 331.1,270.6 324.6,278.7" fill="#a0d020" fill-opacity="0.69"/>
<polygon points="285.8,211.1 289.4,206.8 293.8,214.2" fill="#70d018" fill-opacity="0.77"/>
<polygon points="336.2,284.0 331.0,269.4 342.5,284.4" fill="#a0d020" fill-opacity="0.73"/>
<polygon points="317.4,193.0 324.0,200.4 319.6,192.5" fill="#d84010" fill-opacity="0.78"/>
<polygon points="295.3,271.5 291.4,267.3 295.2,266.3" fill="#40c830" fill-opacity="0.72"/>
<polygon points="352.4,275.0 351.4,265.5 348.4,270.9" fill="#a0d020" fill-opacity="0.81"/>
<polygon points="274.9,261.6 273.1,262.2 270.4,258.8" fill="#a0d020" fill-opacity="0.57"/>
<polygon points="364.5,245.0 364.9,253.8 357.0,250.1" fill="#d0c828" fill-opacity="0.83"/>
<polygon points="269.6,236.2 283.4,227.6 279.4,232.5" fill="#40c830" fill-opacity="0.56"/>
<polygon points="362.4,191.8 351.5,197.2 350.7,201.5" fill="#e8b020" fill-opacity="0.57"/>
<polygon points="294.4,194.8 295.2,193.3 289.9,196.2" fill="#40c830" fill-opacity="0.68"/>
<polygon points="357.7,226.2 356.0,220.8 365.8,219.0" fill="#a0d020" fill-opacity="0.76"/>
<polygon points="356.2,204.8 364.0,203.3 357.6,202.9" fill="#e8b020" fill-opacity="0.59"/>
<polygon points="350.7,272.6 355.8,266.3 365.8,259.3" fill="#70d018" fill-opacity="0.51"/>
<polygon points="361.6,280.3 351.2,276.0 352.1,270.4" fill="#70d018" fill-opacity="0.79"/>
<polygon points="369.5,221.9 361.2,217.0 368.4,216.9" fill="#70d018" fill-opacity="0.73"/>
<polygon points="284.3,228.1 273.3,227.8 279.8,226.9" fill="#e07018" fill-opacity="0.65"/>
<polygon points="363.7,266.9 366.8,270.0 356.5,276.9" fill="#e8b020" fill-opacity="0.80"/>
<polygon points="303.3,280.0 295.2,267.5 291.4,267.4" fill="#d0c828" fill-opacity="0.60"/>
<polygon points="287.5,227.9 281.9,218.4 275.2,223.8" fill="#e07018" fill-opacity="0.60"/>
<polygon points="344.2,192.5 341.6,191.6 335.7,194.0" fill="#70d018" fill-opacity="0.65"/>
<polygon points="361.8,273.2 364.8,279.8 364.8,281.7" fill="#e07018" fill-opacity="0.59"/>
<polygon points="344.9,199.2 343.6,203.9 339.3,203.8" fill="#40c830" fill-opacity="0.72"/>
<polygon points="282.8,214.8 290.2,214.1 286.7,207.5" fill="#d84010" fill-opacity="0.51"/>
<polygon points="336.1,272.3 326.7,281.1 328.4,268.2" fill="#e8b020" fill-opacity="0.68"/>
<polygon points="367.9,267.0 370.9,274.1 358.6,265.6" fill="#40c830" fill-opacity="0.64"/>
<polygon points="340.3,194.8 336.8,198.3 336.8,201.6" fill="#40c830" fill-opacity="0.64"/>
<polygon points="370.0,224.5 353.9,221.1 356.6,229.1" fill="#d84010" fill-opacity="0.79"/>
<polygon points="353.7,201.2 348.5,203.9 352.8,200.4" fill="#40c830" fill-opacity="0.80"/>
<polygon points="287.2,196.8 290.4,191.6 293.2,194.3" fill="#70d018" fill-opacity="0.57"/>
<polygon points="297.0,273.6 302.5,275.7 292.7,280.5" fill="#40c830" fill-opacity="0.63"/>
<polygon points="275.6,236.8 276.1,244.6 279.2,245.6" fill="#e07018" fill-opacity="0.65"/>
<polygon points="362.1,275.4 359.4,265.4 364.8,266.3" fill="#e07018" fill-opacity="0.72"/>
<polygon points="361.4,253.9 359.3,258.9 359.1,246.7" fill="#a0d020" fill-opacity="0.55"/>
<polygon points="341.1,278.3 345.8,283.5 335.4,276.4" fill="#40c830" fill-opacity="0.83"/>
<polygon points="350.2,266.5 349.8,272.5 350.8,264.0" fill="#e07018" fill-opacity="0.81"/>
<polygon points="275.9,237.5 282.7,243.3 283.7,240.6" fill="#a0d020" fill-opacity="0.69"/>
<polygon points="365.8,246.9 362.3,244.6 357.8,244.0" fill="#40c830" fill-opacity="0.68"/>
<polygon points="343.1,279.7 333.6,271.3 341.6,281.8" fill="#a0d020" fill-opacity="0.54"/>
<polygon points="282.7,226.5 280.9,227.9 286.9,229.4" fill="#a0d020" fill-opacity="0.68"/>
<polygon points="358.7,262.7 350.9,262.0 365.6,259.1" fill="#40c830" fill-opacity="0.56"/>
<polygon points="365.0,234.8 369.9,239.4 362.3,246.7" fill="#70d018" fill-opacity="0.75"/>
<polygon points="281.5,209.5 281.5,209.5 284.4,204.9" fill="#40c830" fill-opacity="0.80"/>
<polygon points="284.3,209.3 282.0,199.1 283.1,207.7" fill="#d84010" fill-opacity="0.73"/>
<polygon points="287.8,262.8 286.0,264.9 289.6,264.5" fill="#e07018" fill-opacity="0.62"/>
<polygon points="287.1,274.1 296.1,270.3 292.0,275.4" fill="#e07018" fill-opacity="0.59"/>
<polygon points="345.3,196.3 334.2,207.6 334.4,205.9" fill="#e07018" fill-opacity="0.80"/>
<polygon points="357.2,282.1 360.6,282.1 355.8,277.7" fill="#a0d020" fill-opacity="0.61"/>
</g>
<g filter="url(#hz)">
<ellipse cx="245.0" cy="388.0" rx="16.0" ry="55.0" fill="#e0e2f6" fill-opacity="0.85"/>
<ellipse cx="256.0" cy="345.0" rx="18.0" ry="40.0" fill="#d8e0f4" fill-opacity="0.35"/>
<ellipse cx="241.0" cy="300.0" rx="8.0" ry="40.0" fill="#e0e2f6" fill-opacity="0.45"/>
<ellipse cx="408.0" cy="88.0" rx="18.0" ry="45.0" fill="#e0e0f6" fill-opacity="0.60"/>
<ellipse cx="416.0" cy="200.0" rx="8.0" ry="60.0" fill="#e0e4f6" fill-opacity="0.30"/>
<ellipse cx="416.0" cy="335.0" rx="10.0" ry="60.0" fill="#e0e4f6" fill-opacity="0.45"/>
<ellipse cx="268.0" cy="432.0" rx="40.0" ry="10.0" fill="#d8d8f4" fill-opacity="0.45"/>
<ellipse cx="265.0" cy="45.0" rx="25.0" ry="10.0" fill="#c8ccf4" fill-opacity="0.40"/>
</g>
<rect x="236.0" y="24.6" width="186.5" height="424.1" filter="url(#nz1)" opacity="0.35" style="mix-blend-mode:soft-light"/>
<rect x="236.0" y="24.6" width="186.5" height="424.1" fill="url(#vl1)"/>
<rect x="235.0" y="24.6" width="11.0" height="424.1" fill="url(#hl1)"/>
<polygon points="362.4,70.5 422.5,39.2 422.6,417.2 362.6,448.7" fill="url(#hr1)"/>
<polygon points="236.0,56.0 295.0,24.6 422.5,39.2 362.4,70.5" fill="url(#ht1)"/>
<polygon points="236.0,56.0 295.0,24.6 422.5,39.2 362.4,70.5" fill="url(#hu1)"/>
<polygon points="236.5,434.0 295.0,402.6 422.6,417.2 362.6,448.7" fill="url(#hb1)"/>
</g>
<line x1="295.0" y1="24.6" x2="295.0" y2="402.6" stroke="url(#bv1)" stroke-width="1"/>
<line x1="295.0" y1="402.6" x2="422.6" y2="417.2" stroke="#000080" stroke-width="1.3" stroke-opacity="0.40"/>
<line x1="295.0" y1="402.6" x2="236.5" y2="434.0" stroke="#000080" stroke-width="1.3" stroke-opacity="0.40"/>
<line x1="236.0" y1="56.0" x2="362.4" y2="70.5" stroke="#000080" stroke-width="1.5" stroke-opacity="0.45"/>
<line x1="362.6" y1="448.7" x2="236.5" y2="434.0" stroke="#000080" stroke-width="1.5" stroke-opacity="0.45"/>
<line x1="236.5" y1="434.0" x2="236.0" y2="56.0" stroke="#000080" stroke-width="1.5" stroke-opacity="0.45"/>
<line x1="295.0" y1="24.6" x2="422.5" y2="39.2" stroke="#000080" stroke-width="1.5" stroke-opacity="0.45"/>
<line x1="422.5" y1="39.2" x2="422.6" y2="417.2" stroke="#000080" stroke-width="1.5" stroke-opacity="0.45"/>
<line x1="236.0" y1="56.0" x2="295.0" y2="24.6" stroke="#000080" stroke-width="1.5" stroke-opacity="0.45"/>
<line x1="362.4" y1="70.5" x2="422.5" y2="39.2" stroke="#000080" stroke-width="1.5" stroke-opacity="0.45"/>
<line x1="362.6" y1="448.7" x2="422.6" y2="417.2" stroke="#000080" stroke-width="1.5" stroke-opacity="0.45"/>
<line x1="362.4" y1="70.5" x2="362.6" y2="448.7" stroke="#000060" stroke-width="1.5" stroke-opacity="0.55"/>
<clipPath id="c2"><polygon points="434.9,47.2 500.3,21.5 619.4,36.0 618.6,412.9 553.8,438.5 435.2,424.1"/></clipPath>
<g clip-path="url(#c2)">
<rect x="434.9" y="21.5" width="184.5" height="417.0" fill="url(#base2)"/>
<g filter="url(#hz)">
<ellipse cx="441.0" cy="235.0" rx="10.0" ry="55.0" fill="#40c8a8" fill-opacity="0.50"/>
<ellipse cx="585.0" cy="295.0" rx="28.0" ry="40.0" fill="#20c050" fill-opacity="0.55"/>
</g>
<path d="M583.7,232.5 L583.5,244.0 L583.0,250.7 L582.0,256.3 L580.7,261.1 L579.0,265.3 L576.9,269.1 L574.4,272.5 L571.5,275.5 L568.2,278.1 L564.5,280.4 L560.4,282.3 L555.7,283.9 L550.5,285.1 L544.4,286.0 L537.1,286.5 L524.5,286.7 L511.9,286.5 L504.6,286.0 L498.5,285.1 L493.3,283.9 L488.6,282.3 L484.5,280.4 L480.8,278.1 L477.5,275.5 L474.6,272.5 L472.1,269.1 L470.0,265.3 L468.3,261.1 L467.0,256.3 L466.0,250.7 L465.5,244.0 L465.3,232.5 L465.5,221.0 L466.0,214.3 L467.0,208.7 L468.3,203.9 L470.0,199.7 L472.1,195.9 L474.6,192.5 L477.5,189.5 L480.8,186.9 L484.5,184.6 L488.6,182.7 L493.3,181.1 L498.5,179.9 L504.6,179.0 L511.9,178.5 L524.5,178.3 L537.1,178.5 L544.4,179.0 L550.5,179.9 L555.7,181.1 L560.4,182.7 L564.5,184.6 L568.2,186.9 L571.5,189.5 L574.4,192.5 L576.9,195.9 L579.0,199.7 L580.7,203.9 L582.0,208.7 L583.0,214.3 L583.5,221.0Z" fill="#a0d014" fill-opacity="0.85" filter="url(#bl6)"/>
<path d="M574.2,232.5 L572.7,245.4 L574.5,254.1 L569.1,258.5 L568.8,265.2 L564.1,268.8 L558.2,270.7 L554.5,275.5 L546.4,274.9 L539.1,278.2 L524.5,276.5 L510.5,276.3 L501.5,277.0 L493.3,277.2 L490.5,271.0 L485.5,268.1 L479.8,265.6 L475.0,261.4 L475.0,253.9 L474.8,245.8 L470.8,232.5 L476.9,219.8 L473.3,210.4 L478.7,205.8 L482.3,201.3 L486.1,197.3 L489.7,193.1 L493.4,187.9 L502.2,189.3 L509.6,186.0 L524.5,185.3 L539.0,187.1 L547.8,187.3 L552.9,191.8 L558.2,194.3 L563.4,196.9 L569.5,199.2 L571.1,205.3 L572.5,211.7 L575.4,218.9Z" fill="#e4c820" fill-opacity="0.95" filter="url(#bl3)"/>
<path d="M568.2,232.5 L566.2,243.7 L570.2,252.3 L567.4,257.5 L560.5,259.1 L560.2,265.2 L555.7,267.8 L552.9,273.3 L545.8,273.7 L536.7,270.5 L524.5,277.6 L512.8,268.9 L504.7,270.8 L496.8,272.2 L496.1,264.7 L489.5,264.5 L490.4,257.7 L481.9,257.3 L479.1,252.1 L479.9,244.4 L476.3,232.5 L482.6,221.3 L479.8,213.2 L482.7,208.1 L485.4,203.6 L489.8,200.8 L491.0,194.5 L495.6,191.1 L504.4,193.7 L511.2,190.8 L524.5,196.3 L537.9,190.5 L545.4,192.0 L553.7,190.6 L557.9,194.7 L557.8,202.1 L561.8,204.9 L567.1,207.7 L562.3,216.1 L567.9,220.9Z" fill="#e89020" filter="url(#bl2)"/>
<path d="M559.1,232.5 L558.4,241.6 L557.0,246.6 L561.6,254.1 L554.2,254.5 L552.5,258.1 L550.2,261.6 L548.7,267.2 L540.0,262.4 L535.3,266.2 L524.5,267.3 L512.6,269.8 L506.0,268.3 L500.3,267.1 L499.5,260.8 L495.3,259.2 L493.0,255.8 L486.5,254.7 L484.1,250.0 L490.3,241.7 L489.8,232.5 L489.6,223.2 L490.5,217.8 L489.8,212.3 L491.2,207.8 L496.4,206.8 L501.3,206.2 L502.7,201.3 L507.9,200.3 L513.4,197.8 L524.5,194.4 L535.9,196.8 L541.7,199.1 L547.3,199.7 L552.0,201.4 L551.1,208.1 L560.3,206.0 L561.7,210.8 L564.1,215.4 L564.5,221.8Z" fill="#e6681a" filter="url(#bl3)"/>
<ellipse cx="560.0" cy="240.0" rx="12.0" ry="22.0" fill="#e0b820" fill-opacity="0.60" filter="url(#bl3)"/>
<ellipse cx="495.0" cy="205.0" rx="12.0" ry="10.0" fill="#e0b020" fill-opacity="0.50" filter="url(#bl3)"/>
<ellipse cx="540.0" cy="270.0" rx="14.0" ry="8.0" fill="#e0b020" fill-opacity="0.45" filter="url(#bl3)"/>
<g filter="url(#bl)">
<polygon points="516.3,217.6 508.2,219.7 509.6,221.5" fill="#e26014" fill-opacity="0.83"/>
<polygon points="517.0,263.7 524.8,274.5 539.6,273.7" fill="#e8a820" fill-opacity="0.94"/>
<polygon points="520.7,193.5 527.7,192.1 516.2,203.3" fill="#e0c020" fill-opacity="0.88"/>
<polygon points="566.1,247.1 569.2,254.7 570.1,251.6" fill="#e89020" fill-opacity="0.91"/>
<polygon points="523.0,219.2 517.6,218.2 515.6,200.5" fill="#e66414" fill-opacity="0.89"/>
<polygon points="517.9,214.0 527.5,202.3 533.9,195.5" fill="#a8d030" fill-opacity="0.68"/>
<polygon points="507.5,242.5 501.6,252.7 483.5,248.3" fill="#e8a828" fill-opacity="0.79"/>
<polygon points="500.1,266.5 492.3,255.5 502.9,261.7" fill="#e0c020" fill-opacity="0.61"/>
<polygon points="536.0,232.1 532.4,241.1 523.9,230.8" fill="#e86c18" fill-opacity="0.81"/>
<polygon points="571.0,219.1 557.5,220.4 557.2,229.5" fill="#a8d030" fill-opacity="0.93"/>
<polygon points="488.4,263.1 484.1,263.2 495.2,241.4" fill="#e89020" fill-opacity="0.61"/>
<polygon points="522.5,201.3 518.6,208.0 519.6,203.1" fill="#a8d040" fill-opacity="0.79"/>
<polygon points="546.4,259.4 545.2,264.8 544.2,270.7" fill="#c8c828" fill-opacity="0.85"/>
<polygon points="523.7,234.5 524.4,245.6 530.4,243.8" fill="#e05a14" fill-opacity="0.97"/>
<polygon points="559.6,204.6 557.4,210.7 559.9,200.6" fill="#e8a820" fill-opacity="0.96"/>
<polygon points="482.7,261.1 504.4,243.6 504.0,248.4" fill="#e8a828" fill-opacity="0.66"/>
<polygon points="512.1,230.3 522.4,224.5 519.1,232.7" fill="#e66414" fill-opacity="0.81"/>
<polygon points="511.3,268.2 510.7,266.1 503.8,274.2" fill="#e0c020" fill-opacity="0.93"/>
<polygon points="554.3,248.8 557.8,247.5 551.7,240.4" fill="#ec8a1e" fill-opacity="0.77"/>
<polygon points="542.1,252.4 542.2,257.8 534.9,259.2" fill="#e05a14" fill-opacity="0.85"/>
<polygon points="496.9,242.7 481.3,258.5 485.8,251.5" fill="#a8d030" fill-opacity="0.80"/>
<polygon points="491.1,213.3 497.1,220.0 490.4,219.0" fill="#e86c18" fill-opacity="0.86"/>
<polygon points="547.9,257.3 534.0,239.1 532.1,238.7" fill="#ec8a1e" fill-opacity="0.76"/>
<polygon points="503.8,197.8 507.0,190.3 504.0,199.2" fill="#e05a14" fill-opacity="0.84"/>
<polygon points="537.6,189.8 540.4,190.6 549.6,191.8" fill="#c8c828" fill-opacity="0.69"/>
<polygon points="491.6,220.5 491.2,222.2 489.0,222.7" fill="#e89020" fill-opacity="0.62"/>
<polygon points="505.3,243.6 504.5,248.8 496.8,235.7" fill="#ec8a1e" fill-opacity="0.71"/>
<polygon points="542.1,202.3 533.5,208.0 535.8,214.3" fill="#e26014" fill-opacity="0.93"/>
<polygon points="537.6,259.0 519.7,256.4 528.6,255.6" fill="#a8d040" fill-opacity="0.62"/>
<polygon points="491.0,221.7 509.3,203.2 501.1,217.6" fill="#e86c18" fill-opacity="0.94"/>
<polygon points="502.1,253.9 505.5,247.3 506.6,250.9" fill="#80c830" fill-opacity="0.86"/>
<polygon points="502.6,244.3 493.2,249.1 504.6,257.0" fill="#e05a14" fill-opacity="0.88"/>
<polygon points="518.6,231.0 498.9,217.6 503.6,223.5" fill="#a8d040" fill-opacity="0.99"/>
<polygon points="527.2,207.8 521.1,206.7 520.1,220.1" fill="#a8d040" fill-opacity="0.71"/>
<polygon points="496.7,218.5 480.3,231.2 492.3,218.7" fill="#dc5a12" fill-opacity="0.74"/>
<polygon points="510.2,265.8 502.6,266.9 509.8,266.6" fill="#c8c828" fill-opacity="0.63"/>
<polygon points="520.0,267.8 519.0,261.3 508.0,266.5" fill="#ec8a1e" fill-opacity="0.70"/>
<polygon points="500.4,240.8 508.7,238.5 504.6,240.1" fill="#a8d040" fill-opacity="0.68"/>
<polygon points="521.7,242.2 522.3,243.1 511.2,241.1" fill="#e05a14" fill-opacity="0.90"/>
<polygon points="536.6,207.3 531.0,208.3 549.0,215.3" fill="#e66414" fill-opacity="1.00"/>
<polygon points="513.2,198.9 513.2,197.3 515.9,202.6" fill="#dc5a12" fill-opacity="0.75"/>
<polygon points="552.1,207.5 548.9,205.1 551.0,208.1" fill="#e8a828" fill-opacity="0.64"/>
<polygon points="560.0,217.6 570.0,234.8 552.0,220.6" fill="#e87818" fill-opacity="0.99"/>
<polygon points="537.4,196.7 522.5,194.1 532.2,189.6" fill="#80c830" fill-opacity="0.64"/>
<polygon points="567.2,237.1 563.6,234.5 543.6,251.9" fill="#80c830" fill-opacity="0.72"/>
<polygon points="494.7,201.1 479.2,212.2 491.7,208.2" fill="#e89020" fill-opacity="0.60"/>
<polygon points="495.8,217.5 505.1,202.4 501.0,221.3" fill="#e8a828" fill-opacity="0.80"/>
<polygon points="543.9,233.1 536.1,217.4 538.0,224.2" fill="#e8a828" fill-opacity="0.60"/>
<polygon points="504.9,258.1 508.5,258.1 504.5,259.0" fill="#e86c18" fill-opacity="0.98"/>
<polygon points="522.7,208.4 531.7,199.6 522.3,200.8" fill="#ec8a1e" fill-opacity="0.77"/>
<polygon points="548.9,201.3 535.8,196.1 536.9,198.6" fill="#a8d040" fill-opacity="0.90"/>
<polygon points="477.9,243.2 477.5,236.2 477.7,243.2" fill="#e86c18" fill-opacity="0.82"/>
<polygon points="543.3,231.0 536.9,228.1 540.0,223.4" fill="#e66414" fill-opacity="0.75"/>
<polygon points="502.9,245.9 503.5,271.4 509.1,266.5" fill="#e66414" fill-opacity="0.75"/>
<polygon points="512.2,274.0 514.5,268.9 511.9,272.8" fill="#e86c18" fill-opacity="0.61"/>
<polygon points="514.5,226.6 491.3,228.1 499.3,244.5" fill="#e05a14" fill-opacity="0.93"/>
<polygon points="546.7,239.1 555.6,233.6 544.3,246.6" fill="#e86c18" fill-opacity="0.86"/>
<polygon points="521.6,230.2 516.1,238.3 518.2,235.1" fill="#e87818" fill-opacity="0.67"/>
<polygon points="481.6,230.4 498.7,237.3 498.8,222.6" fill="#c8c828" fill-opacity="0.75"/>
<polygon points="542.4,200.6 553.6,208.0 543.8,204.8" fill="#a8d040" fill-opacity="0.81"/>
<polygon points="528.1,189.5 547.1,192.2 537.4,195.3" fill="#e8a828" fill-opacity="0.65"/>
<polygon points="539.7,268.5 527.5,275.1 541.3,261.5" fill="#e89020" fill-opacity="0.74"/>
<polygon points="487.5,212.8 484.0,224.1 485.1,222.9" fill="#c8c828" fill-opacity="0.67"/>
<polygon points="508.3,194.1 495.1,203.9 508.3,211.1" fill="#e0c020" fill-opacity="0.76"/>
<polygon points="543.5,230.5 539.1,219.1 543.8,229.4" fill="#dc5a12" fill-opacity="0.89"/>
<polygon points="559.4,237.4 561.1,215.8 547.7,227.5" fill="#dc5a12" fill-opacity="0.64"/>
<polygon points="527.8,216.4 536.5,231.2 527.0,221.2" fill="#e8a828" fill-opacity="0.72"/>
<polygon points="566.8,206.1 568.7,221.3 571.2,220.6" fill="#dc5a12" fill-opacity="0.85"/>
<polygon points="484.7,240.9 487.5,226.7 487.4,241.7" fill="#e8a828" fill-opacity="0.62"/>
<polygon points="534.7,249.7 531.6,255.3 532.0,252.2" fill="#e8a828" fill-opacity="0.77"/>
<polygon points="529.1,230.5 539.2,222.2 545.1,234.0" fill="#ec8a1e" fill-opacity="0.92"/>
<polygon points="512.5,201.3 515.2,198.4 507.0,190.3" fill="#e66414" fill-opacity="0.91"/>
<polygon points="522.8,204.6 517.2,202.4 537.0,199.5" fill="#e8a828" fill-opacity="0.65"/>
<polygon points="569.6,219.8 567.4,205.9 570.7,217.6" fill="#c8c828" fill-opacity="0.96"/>
<polygon points="503.4,266.0 498.9,256.0 503.4,256.9" fill="#e0c020" fill-opacity="0.76"/>
<polygon points="535.0,219.0 532.8,218.6 528.7,220.3" fill="#e87818" fill-opacity="0.82"/>
<polygon points="539.1,267.3 530.5,269.7 528.7,272.4" fill="#e66414" fill-opacity="0.73"/>
<polygon points="496.8,204.1 485.6,204.4 497.0,218.7" fill="#e66414" fill-opacity="0.89"/>
<polygon points="550.0,207.0 545.2,200.2 547.5,210.6" fill="#e8a820" fill-opacity="0.60"/>
<polygon points="505.4,200.3 512.6,192.8 513.3,198.1" fill="#e0c020" fill-opacity="0.88"/>
<polygon points="522.4,191.5 524.6,202.1 513.1,199.8" fill="#e87818" fill-opacity="0.84"/>
<polygon points="518.3,225.0 518.7,227.0 520.8,238.3" fill="#a8d040" fill-opacity="0.86"/>
<polygon points="499.4,228.5 494.1,227.7 496.2,214.8" fill="#e87818" fill-opacity="0.89"/>
<polygon points="546.2,221.8 536.4,221.9 534.5,224.9" fill="#e05a14" fill-opacity="0.88"/>
<polygon points="508.7,237.6 497.4,240.2 512.5,231.0" fill="#e26014" fill-opacity="0.67"/>
<polygon points="556.9,268.7 557.5,260.1 564.2,259.9" fill="#a8d040" fill-opacity="0.79"/>
<polygon points="554.5,256.4 558.6,243.6 547.5,253.3" fill="#e0c020" fill-opacity="0.66"/>
<polygon points="557.7,212.2 567.7,221.2 567.8,222.7" fill="#e89020" fill-opacity="0.90"/>
<polygon points="535.7,253.2 524.0,238.7 518.4,232.0" fill="#e86c18" fill-opacity="0.93"/>
<polygon points="531.2,217.9 532.7,211.6 535.8,207.4" fill="#e05a14" fill-opacity="0.62"/>
<polygon points="551.9,267.1 542.7,274.7 557.3,254.2" fill="#e8a820" fill-opacity="0.74"/>
<polygon points="549.8,228.9 549.1,230.2 535.4,230.8" fill="#e26014" fill-opacity="0.60"/>
<polygon points="514.3,231.6 519.1,241.6 516.6,244.9" fill="#e8a828" fill-opacity="0.98"/>
<polygon points="508.0,203.4 515.3,205.8 486.9,198.6" fill="#a8d030" fill-opacity="0.96"/>
<polygon points="544.2,220.6 545.7,227.0 538.9,238.4" fill="#e87818" fill-opacity="0.65"/>
<polygon points="521.5,250.8 533.9,258.1 532.1,250.1" fill="#e87818" fill-opacity="0.78"/>
<polygon points="549.6,245.0 546.3,234.8 547.3,242.3" fill="#ec8a1e" fill-opacity="0.89"/>
<polygon points="542.0,215.3 542.0,228.0 528.4,222.2" fill="#ec8a1e" fill-opacity="0.99"/>
<polygon points="545.7,255.5 543.7,246.2 549.8,242.5" fill="#dc5a12" fill-opacity="0.88"/>
<polygon points="516.6,246.2 522.4,249.2 533.6,242.3" fill="#dc5a12" fill-opacity="0.94"/>
<polygon points="544.7,248.2 531.8,235.6 528.5,243.5" fill="#e86c18" fill-opacity="0.96"/>
<polygon points="490.8,233.6 499.8,210.6 510.2,224.4" fill="#ec8a1e" fill-opacity="0.96"/>
<polygon points="552.1,263.6 556.0,270.7 551.4,265.4" fill="#e87818" fill-opacity="0.82"/>
<polygon points="553.5,234.1 542.6,245.2 537.4,238.4" fill="#e86c18" fill-opacity="0.89"/>
<polygon points="533.1,236.6 527.8,251.6 537.5,247.4" fill="#e86c18" fill-opacity="0.69"/>
<polygon points="539.7,275.0 544.6,263.5 537.9,275.2" fill="#e8a828" fill-opacity="0.79"/>
<polygon points="525.5,213.5 540.9,219.4 529.3,202.1" fill="#ec8a1e" fill-opacity="0.91"/>
<polygon points="525.1,260.1 529.9,259.9 521.3,262.1" fill="#e66414" fill-opacity="0.70"/>
<polygon points="508.8,234.2 502.9,239.9 513.5,221.3" fill="#e66414" fill-opacity="0.91"/>
<polygon points="478.3,248.3 502.4,265.0 484.2,250.7" fill="#e0c020" fill-opacity="0.67"/>
<polygon points="518.4,257.6 521.8,260.1 527.9,250.2" fill="#a8d040" fill-opacity="0.92"/>
<polygon points="557.2,213.1 554.7,216.9 557.8,200.1" fill="#e0c020" fill-opacity="0.79"/>
<polygon points="536.3,223.1 519.2,234.3 537.4,220.3" fill="#e87818" fill-opacity="0.87"/>
<polygon points="566.3,212.7 559.4,224.6 546.5,224.1" fill="#e66414" fill-opacity="0.92"/>
<polygon points="477.7,223.2 483.9,220.4 477.5,235.5" fill="#e89020" fill-opacity="0.82"/>
<polygon points="558.4,205.2 559.1,211.1 563.1,210.7" fill="#a8d040" fill-opacity="0.74"/>
<polygon points="492.1,234.9 491.2,238.7 490.6,239.1" fill="#a8d040" fill-opacity="0.95"/>
<polygon points="519.7,189.5 536.6,195.8 531.7,199.2" fill="#dc5a12" fill-opacity="0.85"/>
<polygon points="541.0,242.2 540.6,248.3 543.0,239.4" fill="#e26014" fill-opacity="0.77"/>
<polygon points="500.5,207.4 481.8,205.5 492.4,218.3" fill="#e87818" fill-opacity="0.83"/>
<polygon points="551.9,223.3 550.0,241.9 567.8,254.5" fill="#dc5a12" fill-opacity="0.82"/>
<polygon points="489.3,227.8 477.5,235.1 500.7,241.5" fill="#e8a820" fill-opacity="0.65"/>
<polygon points="493.0,257.0 503.7,258.3 504.0,245.9" fill="#e87818" fill-opacity="0.78"/>
<polygon points="564.5,201.3 549.0,216.4 566.3,203.8" fill="#80c830" fill-opacity="0.84"/>
<polygon points="542.2,215.7 523.8,232.0 522.1,231.6" fill="#dc5a12" fill-opacity="0.79"/>
<polygon points="555.2,225.4 546.7,230.6 553.4,233.9" fill="#e26014" fill-opacity="0.93"/>
<polygon points="542.3,213.4 538.0,218.2 542.5,222.6" fill="#e26014" fill-opacity="0.73"/>
<polygon points="511.2,212.2 496.7,192.7 515.3,218.9" fill="#e89020" fill-opacity="0.87"/>
<polygon points="564.1,223.5 559.2,222.8 569.4,215.6" fill="#80c830" fill-opacity="0.76"/>
<polygon points="531.9,266.3 545.1,270.0 540.5,258.2" fill="#e89020" fill-opacity="0.96"/>
<polygon points="562.7,227.4 553.8,227.2 565.2,231.3" fill="#dc5a12" fill-opacity="0.91"/>
<polygon points="557.8,222.5 553.9,209.5 544.5,204.7" fill="#c8c828" fill-opacity="0.81"/>
<polygon points="528.2,237.0 531.1,243.0 528.9,246.5" fill="#e26014" fill-opacity="0.74"/>
<polygon points="520.1,259.1 520.5,253.4 521.8,254.9" fill="#e66414" fill-opacity="0.83"/>
<polygon points="534.9,270.4 527.9,275.5 550.9,264.3" fill="#c8c828" fill-opacity="0.98"/>
<polygon points="488.4,234.0 483.2,240.1 486.4,236.8" fill="#c8c828" fill-opacity="0.90"/>
<polygon points="567.5,252.5 558.5,244.4 561.3,240.7" fill="#e0c020" fill-opacity="0.78"/>
<polygon points="548.1,273.6 562.9,257.3 563.9,254.8" fill="#c8c828" fill-opacity="0.96"/>
<polygon points="496.7,232.8 492.5,227.3 488.4,232.5" fill="#e66414" fill-opacity="0.66"/>
<polygon points="550.2,233.5 543.3,231.9 541.1,242.2" fill="#ec8a1e" fill-opacity="0.70"/>
<polygon points="479.9,229.0 490.7,235.2 497.4,230.1" fill="#e86c18" fill-opacity="0.70"/>
<polygon points="513.3,235.2 482.8,213.7 509.8,205.9" fill="#e05a14" fill-opacity="0.66"/>
<polygon points="537.9,226.2 544.4,237.8 532.7,224.3" fill="#dc5a12" fill-opacity="0.69"/>
<polygon points="535.5,204.8 526.4,194.7 524.6,203.1" fill="#e05a14" fill-opacity="0.67"/>
<polygon points="482.4,242.2 478.9,251.6 490.9,255.9" fill="#a8d040" fill-opacity="0.92"/>
<polygon points="508.8,246.9 521.7,261.2 520.6,254.7" fill="#c8c828" fill-opacity="0.61"/>
<polygon points="539.1,252.3 558.0,225.7 539.1,231.1" fill="#e66414" fill-opacity="0.91"/>
<polygon points="552.5,226.6 566.4,237.4 544.0,248.7" fill="#e0c020" fill-opacity="0.99"/>
<polygon points="495.0,209.7 491.8,199.4 501.4,200.8" fill="#e89020" fill-opacity="0.85"/>
<polygon points="517.9,201.2 514.1,205.1 520.3,211.9" fill="#e86c18" fill-opacity="0.65"/>
<polygon points="524.7,192.5 517.5,207.4 507.2,209.4" fill="#dc5a12" fill-opacity="0.88"/>
<polygon points="539.6,235.6 531.9,240.1 538.0,244.1" fill="#e66414" fill-opacity="0.93"/>
<polygon points="518.0,269.3 530.5,267.5 527.1,257.9" fill="#e89020" fill-opacity="0.87"/>
<polygon points="509.0,224.7 489.3,235.6 508.5,216.1" fill="#e05a14" fill-opacity="0.97"/>
<polygon points="522.3,231.6 524.9,229.1 528.3,229.8" fill="#e66414" fill-opacity="0.86"/>
<polygon points="489.3,233.0 487.7,241.7 477.5,228.2" fill="#c8c828" fill-opacity="0.97"/>
<polygon points="538.5,207.1 530.5,218.6 523.9,209.9" fill="#e66414" fill-opacity="0.78"/>
<polygon points="524.8,236.4 522.8,242.5 526.4,244.1" fill="#e66414" fill-opacity="0.66"/>
<polygon points="562.6,224.6 561.6,208.9 557.8,218.3" fill="#c8c828" fill-opacity="0.78"/>
<polygon points="488.4,214.4 477.5,232.8 488.5,215.4" fill="#c8c828" fill-opacity="0.66"/>
<polygon points="502.7,234.7 503.0,249.7 505.5,237.8" fill="#ec8a1e" fill-opacity="0.77"/>
<polygon points="478.0,222.3 499.1,216.4 495.6,219.5" fill="#e86c18" fill-opacity="0.75"/>
<polygon points="514.2,225.8 521.6,225.7 515.0,236.9" fill="#e87818" fill-opacity="0.75"/>
<polygon points="503.8,232.0 497.8,245.2 500.7,249.6" fill="#e8a828" fill-opacity="0.98"/>
<polygon points="481.0,211.7 498.8,226.1 510.2,234.9" fill="#dc5a12" fill-opacity="0.81"/>
<polygon points="523.2,250.4 523.1,257.6 529.8,248.9" fill="#e66414" fill-opacity="0.80"/>
<polygon points="533.7,268.1 536.9,273.5 544.6,270.7" fill="#e86c18" fill-opacity="0.67"/>
<polygon points="560.8,236.3 559.8,240.7 560.7,232.4" fill="#c8c828" fill-opacity="0.93"/>
<polygon points="488.1,267.4 488.7,267.8 499.8,271.0" fill="#e26014" fill-opacity="0.92"/>
<polygon points="504.0,253.0 507.4,250.9 502.7,248.9" fill="#e05a14" fill-opacity="0.95"/>
<polygon points="557.1,235.3 556.3,234.0 561.8,226.6" fill="#e89020" fill-opacity="0.80"/>
<polygon points="525.9,232.0 523.8,216.0 513.7,219.9" fill="#e86c18" fill-opacity="0.94"/>
<polygon points="492.0,241.9 498.8,237.5 490.0,239.9" fill="#e0c020" fill-opacity="0.97"/>
<polygon points="567.9,210.3 561.1,231.2 557.7,230.9" fill="#a8d030" fill-opacity="0.87"/>
<polygon points="536.9,215.1 540.1,216.5 525.6,222.5" fill="#e05a14" fill-opacity="0.76"/>
<polygon points="506.5,223.0 526.0,215.9 524.5,220.0" fill="#e87818" fill-opacity="0.71"/>
<polygon points="543.1,212.6 536.4,224.0 534.2,218.0" fill="#e8a828" fill-opacity="0.66"/>
<polygon points="520.0,245.7 519.8,251.7 505.1,250.7" fill="#e05a14" fill-opacity="0.84"/>
<polygon points="519.1,230.1 531.9,214.8 535.9,229.7" fill="#e26014" fill-opacity="0.86"/>
<polygon points="522.3,209.6 538.1,212.5 534.2,208.2" fill="#e66414" fill-opacity="0.92"/>
<polygon points="537.3,200.2 557.6,203.3 544.8,215.7" fill="#ec8a1e" fill-opacity="0.97"/>
<polygon points="499.7,232.8 480.0,227.1 493.0,235.8" fill="#e86c18" fill-opacity="0.67"/>
<polygon points="540.6,246.4 542.6,248.2 545.0,244.8" fill="#ec8a1e" fill-opacity="0.83"/>
<polygon points="508.9,236.3 500.7,242.5 489.8,238.5" fill="#e26014" fill-opacity="0.95"/>
<polygon points="538.6,233.9 526.4,258.6 527.3,263.2" fill="#dc5a12" fill-opacity="1.00"/>
<polygon points="531.8,219.1 534.0,204.7 535.4,212.9" fill="#e87818" fill-opacity="0.80"/>
<polygon points="550.4,214.7 540.8,198.9 553.2,215.9" fill="#ec8a1e" fill-opacity="0.82"/>
<polygon points="562.6,233.8 565.2,242.2 561.5,239.8" fill="#80c830" fill-opacity="0.79"/>
<polygon points="525.2,245.7 524.6,252.6 518.4,252.7" fill="#e8a828" fill-opacity="0.73"/>
<polygon points="544.6,241.4 557.0,235.5 561.8,246.2" fill="#c8c828" fill-opacity="0.60"/>
<polygon points="518.3,189.5 517.2,207.9 512.5,191.5" fill="#c8c828" fill-opacity="0.67"/>
<polygon points="487.5,238.0 485.0,249.0 478.8,251.1" fill="#e8a820" fill-opacity="0.86"/>
<polygon points="530.0,263.2 527.0,257.5 542.0,274.7" fill="#e0c020" fill-opacity="0.98"/>
<polygon points="516.1,272.4 521.8,269.7 523.6,270.5" fill="#e0c020" fill-opacity="0.75"/>
<polygon points="521.4,207.4 531.3,225.1 539.0,227.5" fill="#e8a828" fill-opacity="0.80"/>
<polygon points="526.0,195.2 528.0,196.8 523.4,211.8" fill="#e8a820" fill-opacity="0.94"/>
<polygon points="513.1,210.5 529.3,208.5 515.4,199.6" fill="#80c830" fill-opacity="0.77"/>
<polygon points="518.0,238.0 500.4,221.8 507.8,228.9" fill="#e8a828" fill-opacity="0.79"/>
<polygon points="529.3,236.6 521.1,231.8 530.9,225.0" fill="#e66414" fill-opacity="0.84"/>
<polygon points="504.8,243.5 498.8,233.5 518.1,223.1" fill="#e87818" fill-opacity="0.88"/>
<polygon points="526.5,269.9 526.7,267.3 535.4,267.0" fill="#40c830" fill-opacity="0.54"/>
<polygon points="485.3,231.2 489.1,220.2 493.4,231.4" fill="#e8b020" fill-opacity="0.66"/>
<polygon points="562.9,204.2 570.1,204.7 562.3,199.7" fill="#40c830" fill-opacity="0.71"/>
<polygon points="566.2,262.8 566.4,266.2 567.0,260.6" fill="#a0d020" fill-opacity="0.68"/>
<polygon points="479.1,269.9 475.5,273.1 480.1,271.0" fill="#70d018" fill-opacity="0.54"/>
<polygon points="493.8,269.2 497.5,257.8 488.8,259.7" fill="#e89020" fill-opacity="0.67"/>
<polygon points="481.5,262.8 481.4,264.5 484.6,263.2" fill="#70d018" fill-opacity="0.64"/>
<polygon points="488.8,218.8 479.8,214.3 483.2,217.5" fill="#e89020" fill-opacity="0.66"/>
<polygon points="565.4,213.2 562.6,221.1 566.9,218.1" fill="#40c830" fill-opacity="0.73"/>
<polygon points="568.0,277.1 570.6,277.1 568.6,276.0" fill="#a0d020" fill-opacity="0.78"/>
<polygon points="482.6,276.6 481.2,276.8 486.9,270.3" fill="#40c830" fill-opacity="0.62"/>
<polygon points="506.1,271.0 504.2,272.4 502.9,267.7" fill="#e0a020" fill-opacity="0.73"/>
<polygon points="544.7,272.7 546.4,270.5 552.5,276.4" fill="#e8b020" fill-opacity="0.82"/>
<polygon points="569.1,226.6 562.8,219.9 577.2,216.3" fill="#a0d020" fill-opacity="0.69"/>
<polygon points="499.3,194.6 497.9,191.2 496.3,189.0" fill="#e8b020" fill-opacity="0.84"/>
<polygon points="549.2,261.0 554.0,269.3 555.3,269.9" fill="#d0c828" fill-opacity="0.61"/>
<polygon points="560.6,196.0 554.6,196.9 563.2,186.1" fill="#e89020" fill-opacity="0.62"/>
<polygon points="486.0,262.5 480.5,272.4 476.3,263.1" fill="#d0c828" fill-opacity="0.57"/>
<polygon points="560.4,197.4 561.2,208.9 558.4,193.4" fill="#40c830" fill-opacity="0.61"/>
<polygon points="547.1,273.9 556.1,268.6 543.5,273.2" fill="#40c830" fill-opacity="0.78"/>
<polygon points="567.8,209.9 576.1,204.4 563.5,203.1" fill="#d0c828" fill-opacity="0.69"/>
<polygon points="490.2,266.3 497.5,275.5 490.4,264.5" fill="#e0a020" fill-opacity="0.75"/>
<polygon points="495.4,262.5 503.0,259.1 500.5,258.8" fill="#e0a020" fill-opacity="0.73"/>
<polygon points="488.6,243.8 484.8,234.5 479.9,235.0" fill="#70d018" fill-opacity="0.58"/>
<polygon points="575.7,261.2 576.0,252.5 567.0,251.9" fill="#e8b020" fill-opacity="0.67"/>
<polygon points="562.8,202.6 562.5,209.6 556.6,209.6" fill="#a0d020" fill-opacity="0.52"/>
<polygon points="559.4,255.7 559.0,244.9 565.5,245.8" fill="#e0a020" fill-opacity="0.56"/>
<polygon points="515.8,276.5 501.7,264.1 514.3,271.6" fill="#e8b020" fill-opacity="0.55"/>
<polygon points="478.6,270.4 486.2,266.6 477.7,264.0" fill="#e89020" fill-opacity="0.55"/>
<polygon points="564.6,260.0 564.5,258.2 560.8,265.6" fill="#70d018" fill-opacity="0.78"/>
<polygon points="561.5,211.9 564.4,210.5 565.9,218.4" fill="#40c830" fill-opacity="0.75"/>
<polygon points="515.5,272.0 512.4,279.5 510.6,274.5" fill="#a0d020" fill-opacity="0.74"/>
<polygon points="549.0,267.3 548.3,266.4 550.0,273.0" fill="#e89020" fill-opacity="0.61"/>
<polygon points="509.1,275.9 507.2,273.8 511.1,270.9" fill="#40c830" fill-opacity="0.78"/>
<polygon points="485.3,277.1 478.7,276.8 485.4,278.2" fill="#e0a020" fill-opacity="0.59"/>
<polygon points="491.2,269.6 495.4,265.5 486.2,273.9" fill="#70d018" fill-opacity="0.56"/>
<polygon points="573.0,260.3 564.4,268.9 565.4,261.7" fill="#40c830" fill-opacity="0.59"/>
<polygon points="513.9,274.9 519.6,279.5 509.0,278.2" fill="#a0d020" fill-opacity="0.67"/>
<polygon points="474.7,212.5 483.9,208.1 474.0,210.9" fill="#e89020" fill-opacity="0.72"/>
<polygon points="484.3,225.0 480.5,229.4 485.5,225.7" fill="#70d018" fill-opacity="0.80"/>
<polygon points="562.9,258.3 574.8,256.5 568.6,261.2" fill="#70d018" fill-opacity="0.67"/>
<polygon points="563.0,254.3 561.9,257.4 561.5,254.4" fill="#e8b020" fill-opacity="0.65"/>
<polygon points="485.3,251.9 475.7,243.9 475.1,252.6" fill="#e8b020" fill-opacity="0.67"/>
<polygon points="478.5,249.1 478.5,243.8 482.4,238.5" fill="#70d018" fill-opacity="0.59"/>
<polygon points="487.9,222.2 477.8,210.2 474.1,216.4" fill="#a0d020" fill-opacity="0.83"/>
<polygon points="490.3,272.0 492.8,272.3 484.8,264.3" fill="#e89020" fill-opacity="0.79"/>
<polygon points="476.8,204.5 487.1,209.9 479.6,211.4" fill="#d0c828" fill-opacity="0.81"/>
<polygon points="475.9,232.5 476.2,228.3 477.9,233.4" fill="#e89020" fill-opacity="0.76"/>
<polygon points="489.7,196.0 485.5,193.0 490.0,198.4" fill="#d0c828" fill-opacity="0.51"/>
<polygon points="496.0,263.8 495.5,273.6 490.7,262.4" fill="#70d018" fill-opacity="0.55"/>
<polygon points="476.5,222.2 481.5,213.0 481.0,212.1" fill="#e0a020" fill-opacity="0.67"/>
<polygon points="569.9,198.8 565.5,191.8 559.9,194.3" fill="#e0a020" fill-opacity="0.80"/>
<polygon points="499.7,272.9 497.5,272.7 500.2,265.2" fill="#a0d020" fill-opacity="0.62"/>
<polygon points="479.6,195.8 479.6,197.9 474.5,196.3" fill="#40c830" fill-opacity="0.56"/>
<polygon points="497.6,274.9 493.2,266.3 488.6,275.0" fill="#e8b020" fill-opacity="0.55"/>
<polygon points="535.9,190.7 531.5,198.5 535.5,195.6" fill="#e89020" fill-opacity="0.68"/>
<polygon points="561.0,196.4 562.6,194.5 556.0,195.6" fill="#d0c828" fill-opacity="0.79"/>
<polygon points="565.3,227.0 565.5,228.5 567.0,222.0" fill="#e0a020" fill-opacity="0.77"/>
<polygon points="545.4,200.1 539.3,196.1 546.4,198.3" fill="#a0d020" fill-opacity="0.53"/>
<polygon points="567.5,254.2 565.1,254.4 567.5,259.4" fill="#d0c828" fill-opacity="0.57"/>
<polygon points="568.9,275.2 574.1,282.4 573.6,277.7" fill="#d0c828" fill-opacity="0.80"/>
<polygon points="484.2,227.0 483.3,224.9 482.1,224.5" fill="#70d018" fill-opacity="0.55"/>
<polygon points="560.0,276.4 561.1,271.8 554.2,276.2" fill="#e0a020" fill-opacity="0.83"/>
<polygon points="542.2,199.7 543.0,190.8 538.5,196.4" fill="#70d018" fill-opacity="0.70"/>
<polygon points="566.6,265.1 566.3,268.4 563.9,265.0" fill="#e8b020" fill-opacity="0.58"/>
<polygon points="565.7,262.3 562.0,265.6 561.2,263.6" fill="#70d018" fill-opacity="0.72"/>
<polygon points="507.2,196.4 506.8,200.5 500.7,199.1" fill="#e8b020" fill-opacity="0.63"/>
<polygon points="550.5,261.8 561.5,271.0 556.3,272.3" fill="#d0c828" fill-opacity="0.64"/>
<polygon points="476.0,263.5 479.8,265.1 480.0,267.4" fill="#40c830" fill-opacity="0.80"/>
<polygon points="558.0,268.4 563.9,273.7 562.6,268.9" fill="#40c830" fill-opacity="0.74"/>
<polygon points="567.0,259.0 567.3,254.8 568.9,262.4" fill="#e8b020" fill-opacity="0.70"/>
<polygon points="543.7,197.9 552.6,188.3 549.0,193.4" fill="#e8b020" fill-opacity="0.85"/>
<polygon points="572.8,238.3 570.3,242.4 565.3,248.4" fill="#40c830" fill-opacity="0.63"/>
<polygon points="564.4,245.0 569.2,255.8 572.8,248.0" fill="#d0c828" fill-opacity="0.57"/>
<polygon points="553.6,196.9 558.2,195.8 558.9,198.0" fill="#a0d020" fill-opacity="0.84"/>
<polygon points="565.5,201.8 563.4,205.2 564.9,212.0" fill="#a0d020" fill-opacity="0.54"/>
<polygon points="563.2,238.3 570.0,236.7 561.4,243.6" fill="#40c830" fill-opacity="0.70"/>
<polygon points="479.2,267.1 477.9,256.8 475.0,261.3" fill="#e0a020" fill-opacity="0.71"/>
<polygon points="541.2,271.7 546.8,265.7 543.4,272.9" fill="#e0a020" fill-opacity="0.76"/>
<polygon points="495.3,266.9 500.7,259.2 492.6,258.2" fill="#70d018" fill-opacity="0.52"/>
</g>
<g filter="url(#hz)">
<ellipse cx="442.0" cy="385.0" rx="11.0" ry="55.0" fill="#e0e2f6" fill-opacity="0.75"/>
<ellipse cx="440.0" cy="240.0" rx="7.0" ry="70.0" fill="#dde0f6" fill-opacity="0.45"/>
<ellipse cx="448.0" cy="335.0" rx="10.0" ry="35.0" fill="#d8e0f4" fill-opacity="0.25"/>
<ellipse cx="610.0" cy="80.0" rx="14.0" ry="45.0" fill="#e0e0f6" fill-opacity="0.50"/>
<ellipse cx="606.0" cy="378.0" rx="16.0" ry="40.0" fill="#e0e4f6" fill-opacity="0.60"/>
<ellipse cx="585.0" cy="372.0" rx="28.0" ry="40.0" fill="#e0e6f6" fill-opacity="0.35"/>
<ellipse cx="495.0" cy="425.0" rx="55.0" ry="11.0" fill="#d8d8f4" fill-opacity="0.45"/>
<ellipse cx="465.0" cy="40.0" rx="25.0" ry="10.0" fill="#c8ccf4" fill-opacity="0.40"/>
</g>
<rect x="434.9" y="21.5" width="184.5" height="417.0" filter="url(#nz2)" opacity="0.35" style="mix-blend-mode:soft-light"/>
<rect x="434.9" y="21.5" width="184.5" height="417.0" fill="url(#vl2)"/>
<rect x="433.9" y="21.5" width="17.0" height="417.0" fill="url(#hl2)"/>
<polygon points="553.3,60.9 619.4,36.0 618.6,412.9 553.8,438.5" fill="url(#hr2)"/>
<polygon points="434.9,47.2 500.3,21.5 619.4,36.0 553.3,60.9" fill="url(#ht2)"/>
<polygon points="434.9,47.2 500.3,21.5 619.4,36.0 553.3,60.9" fill="url(#hu2)"/>
<polygon points="435.2,424.1 500.9,400.0 618.6,412.9 553.8,438.5" fill="url(#hb2)"/>
</g>
<line x1="500.3" y1="21.5" x2="500.9" y2="400.0" stroke="url(#bv2)" stroke-width="1"/>
<line x1="500.9" y1="400.0" x2="618.6" y2="412.9" stroke="#000080" stroke-width="1.3" stroke-opacity="0.40"/>
<line x1="500.9" y1="400.0" x2="435.2" y2="424.1" stroke="#000080" stroke-width="1.3" stroke-opacity="0.40"/>
<line x1="434.9" y1="47.2" x2="553.3" y2="60.9" stroke="#000080" stroke-width="1.5" stroke-opacity="0.45"/>
<line x1="553.8" y1="438.5" x2="435.2" y2="424.1" stroke="#000080" stroke-width="1.5" stroke-opacity="0.45"/>
<line x1="435.2" y1="424.1" x2="434.9" y2="47.2" stroke="#000080" stroke-width="1.5" stroke-opacity="0.45"/>
<line x1="500.3" y1="21.5" x2="619.4" y2="36.0" stroke="#000080" stroke-width="1.5" stroke-opacity="0.45"/>
<line x1="619.4" y1="36.0" x2="618.6" y2="412.9" stroke="#000080" stroke-width="1.5" stroke-opacity="0.45"/>
<line x1="434.9" y1="47.2" x2="500.3" y2="21.5" stroke="#000080" stroke-width="1.5" stroke-opacity="0.45"/>
<line x1="553.3" y1="60.9" x2="619.4" y2="36.0" stroke="#000080" stroke-width="1.5" stroke-opacity="0.45"/>
<line x1="553.8" y1="438.5" x2="618.6" y2="412.9" stroke="#000080" stroke-width="1.5" stroke-opacity="0.45"/>
<line x1="553.3" y1="60.9" x2="553.8" y2="438.5" stroke="#000060" stroke-width="1.5" stroke-opacity="0.55"/>
</svg>
<!--/BOXES-->
</body></html>
